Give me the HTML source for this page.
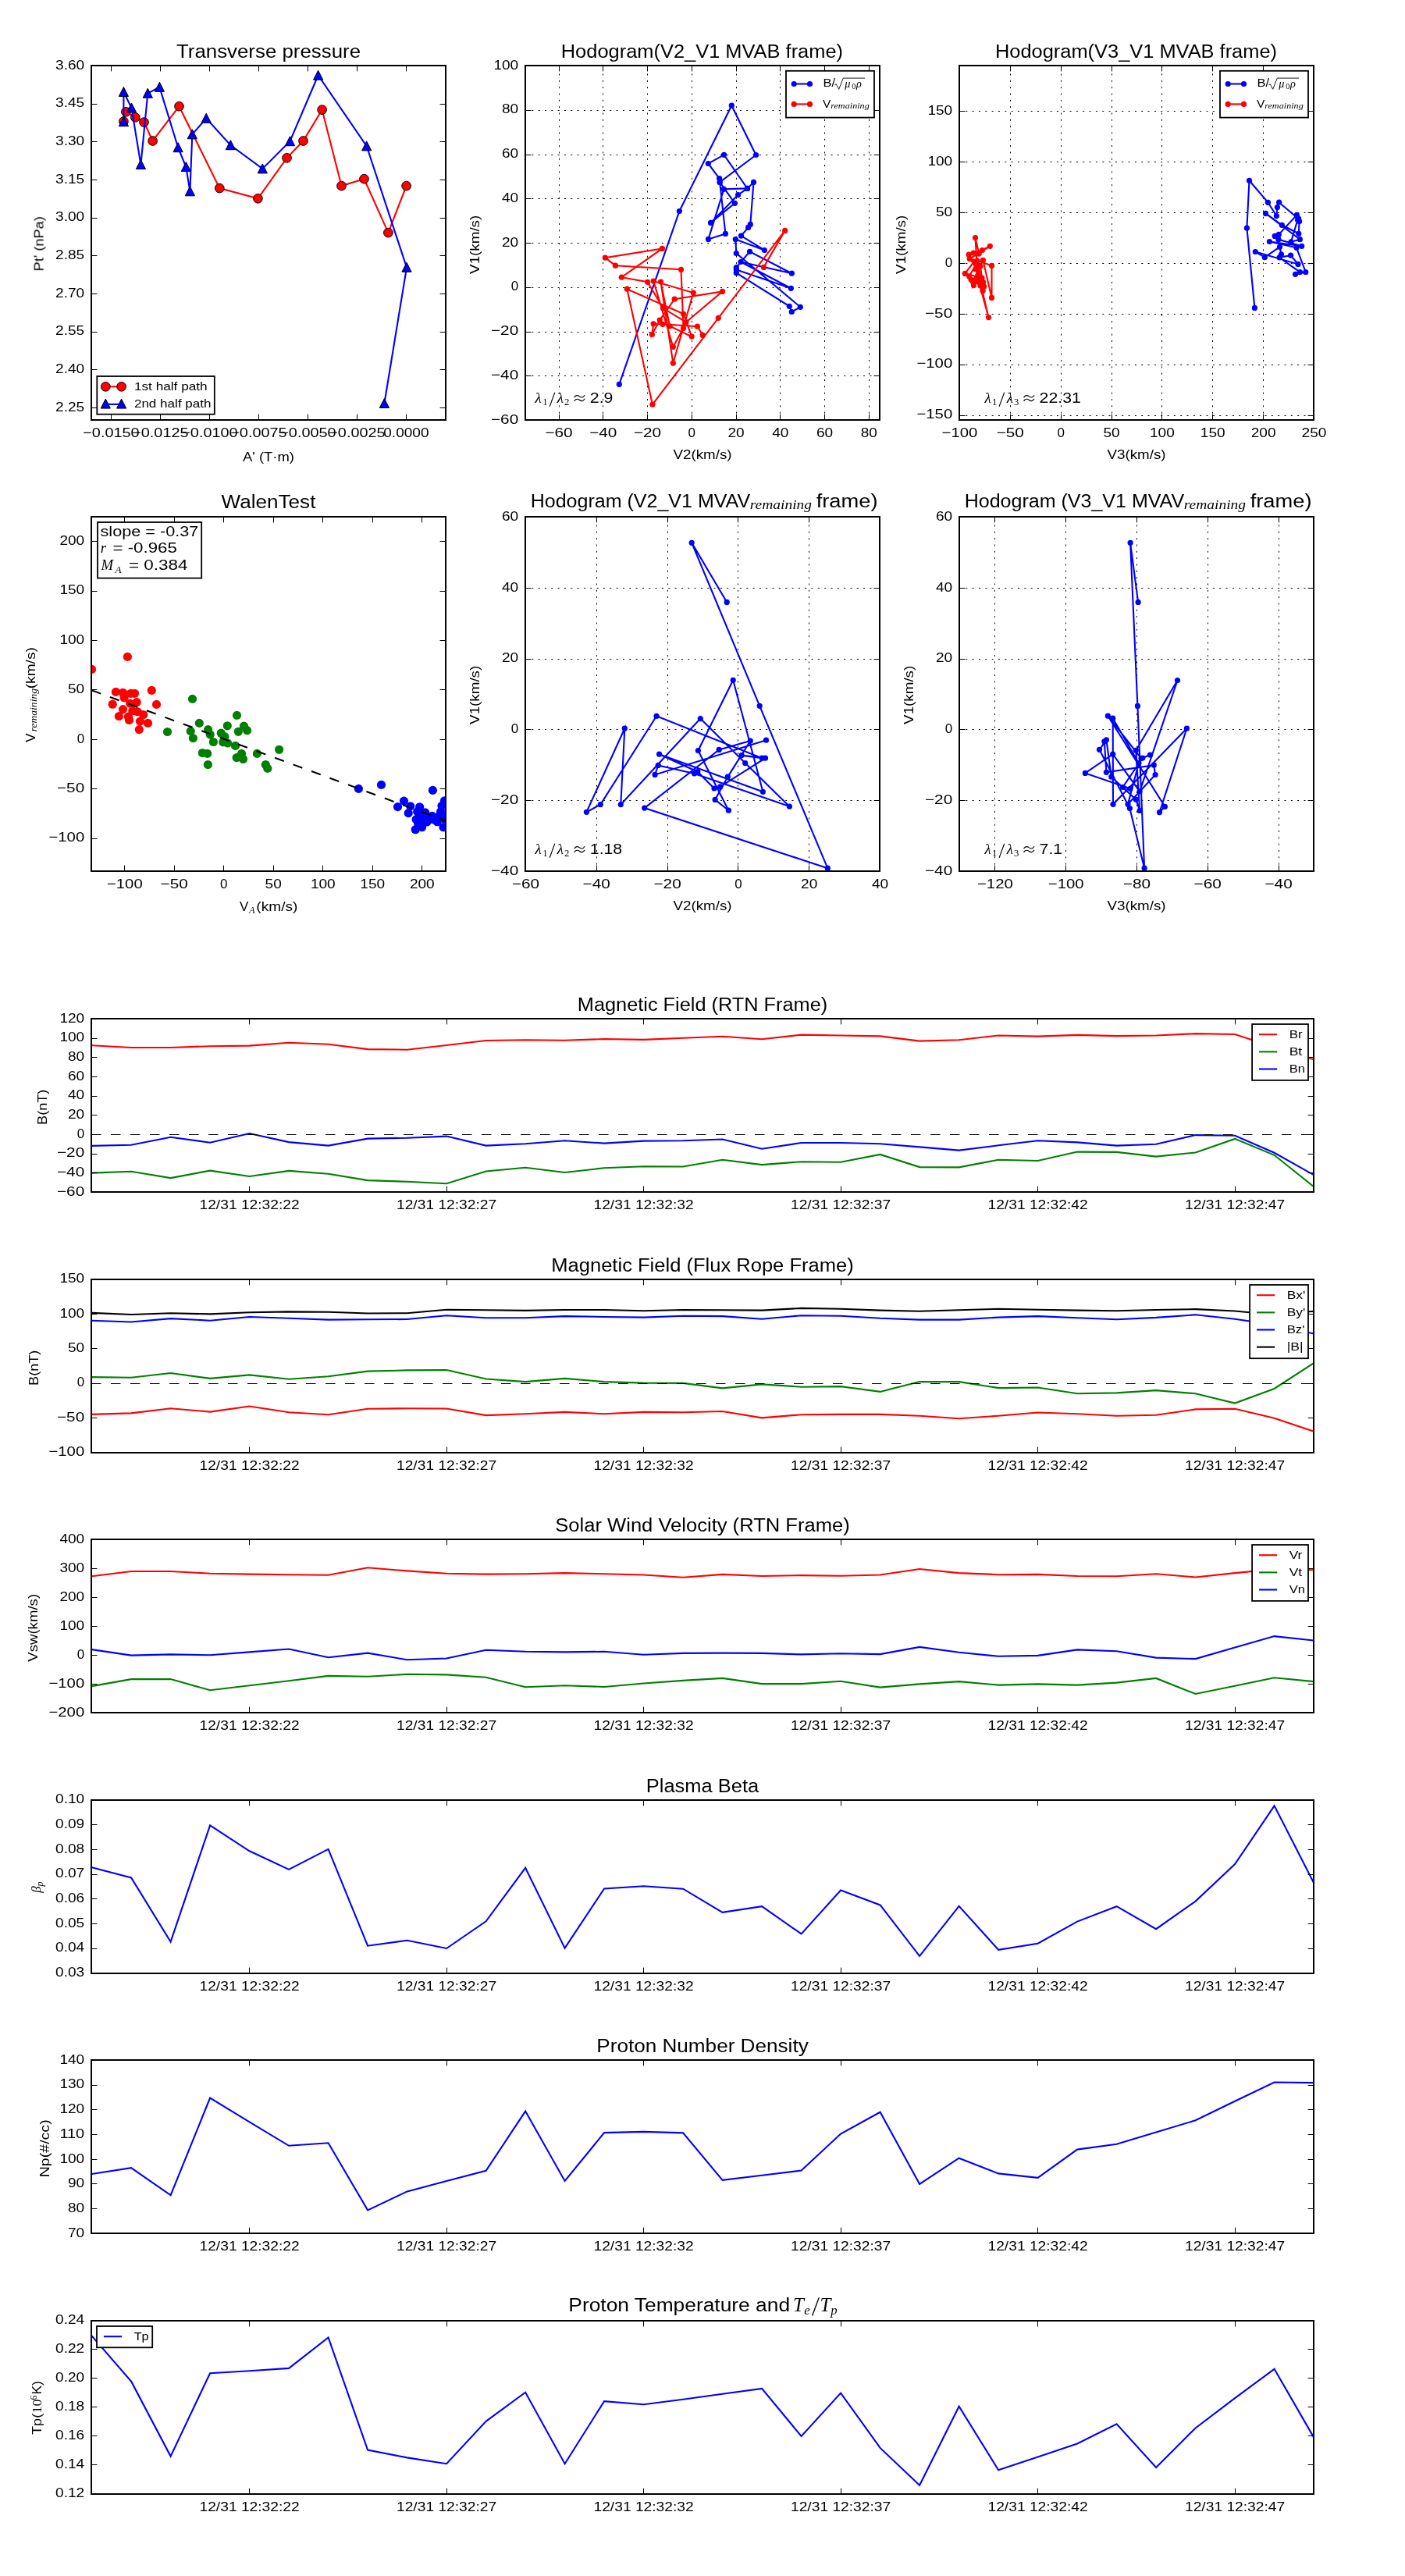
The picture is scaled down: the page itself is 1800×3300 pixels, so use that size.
<!DOCTYPE html>
<html><head><meta charset="utf-8"><title>figure</title>
<style>html,body{margin:0;padding:0;background:#fff}svg{display:block}</style></head>
<body><svg width="1800" height="3300" viewBox="0 0 1800 3300">
<rect width="1800" height="3300" fill="#fff"/>
<clipPath id="c1"><rect x="117" y="84" width="454" height="454"/></clipPath><g clip-path="url(#c1)">
<polyline fill="none" stroke="#ff0000" stroke-width="2.1" stroke-linejoin="miter" stroke-miterlimit="6" points="158.4,155.6 161.4,143.3 173.3,150.4 184.5,156.6 195.6,180.5 229.5,136.2 281.3,241.1 330.4,254.3 367.5,202.3 388.5,180.5 412.6,140.6 437.5,238.1 466.5,229.2 497.4,298.1 520.6,238.1"/>
<circle cx="158.4" cy="155.6" r="5.85" fill="#ff0000" stroke="#000" stroke-width="1"/>
<circle cx="161.4" cy="143.3" r="5.85" fill="#ff0000" stroke="#000" stroke-width="1"/>
<circle cx="173.3" cy="150.4" r="5.85" fill="#ff0000" stroke="#000" stroke-width="1"/>
<circle cx="184.5" cy="156.6" r="5.85" fill="#ff0000" stroke="#000" stroke-width="1"/>
<circle cx="195.6" cy="180.5" r="5.85" fill="#ff0000" stroke="#000" stroke-width="1"/>
<circle cx="229.5" cy="136.2" r="5.85" fill="#ff0000" stroke="#000" stroke-width="1"/>
<circle cx="281.3" cy="241.1" r="5.85" fill="#ff0000" stroke="#000" stroke-width="1"/>
<circle cx="330.4" cy="254.3" r="5.85" fill="#ff0000" stroke="#000" stroke-width="1"/>
<circle cx="367.5" cy="202.3" r="5.85" fill="#ff0000" stroke="#000" stroke-width="1"/>
<circle cx="388.5" cy="180.5" r="5.85" fill="#ff0000" stroke="#000" stroke-width="1"/>
<circle cx="412.6" cy="140.6" r="5.85" fill="#ff0000" stroke="#000" stroke-width="1"/>
<circle cx="437.5" cy="238.1" r="5.85" fill="#ff0000" stroke="#000" stroke-width="1"/>
<circle cx="466.5" cy="229.2" r="5.85" fill="#ff0000" stroke="#000" stroke-width="1"/>
<circle cx="497.4" cy="298.1" r="5.85" fill="#ff0000" stroke="#000" stroke-width="1"/>
<circle cx="520.6" cy="238.1" r="5.85" fill="#ff0000" stroke="#000" stroke-width="1"/>
<polyline fill="none" stroke="#0000ff" stroke-width="2.1" stroke-linejoin="miter" stroke-miterlimit="6" points="158.4,156.0 158.4,117.8 168.5,138.3 180.4,210.9 189.3,119.6 204.4,111.6 228.1,189.0 238.3,213.9 243.4,245.1 246.3,172.1 264.2,151.6 295.4,186.0 336.3,216.2 371.5,181.0 407.6,96.5 469.7,187.2 521.0,342.6 492.4,516.8"/>
<path d="M158.4 149.7 L164.5 161.7 L152.3 161.7 Z" fill="#0000ff" stroke="#000" stroke-width="1"/>
<path d="M158.4 111.5 L164.5 123.5 L152.3 123.5 Z" fill="#0000ff" stroke="#000" stroke-width="1"/>
<path d="M168.5 132.0 L174.6 144.0 L162.4 144.0 Z" fill="#0000ff" stroke="#000" stroke-width="1"/>
<path d="M180.4 204.6 L186.5 216.6 L174.3 216.6 Z" fill="#0000ff" stroke="#000" stroke-width="1"/>
<path d="M189.3 113.3 L195.4 125.3 L183.2 125.3 Z" fill="#0000ff" stroke="#000" stroke-width="1"/>
<path d="M204.4 105.3 L210.5 117.3 L198.3 117.3 Z" fill="#0000ff" stroke="#000" stroke-width="1"/>
<path d="M228.1 182.7 L234.2 194.7 L222.0 194.7 Z" fill="#0000ff" stroke="#000" stroke-width="1"/>
<path d="M238.3 207.6 L244.4 219.6 L232.2 219.6 Z" fill="#0000ff" stroke="#000" stroke-width="1"/>
<path d="M243.4 238.8 L249.5 250.8 L237.3 250.8 Z" fill="#0000ff" stroke="#000" stroke-width="1"/>
<path d="M246.3 165.8 L252.4 177.8 L240.2 177.8 Z" fill="#0000ff" stroke="#000" stroke-width="1"/>
<path d="M264.2 145.3 L270.3 157.3 L258.1 157.3 Z" fill="#0000ff" stroke="#000" stroke-width="1"/>
<path d="M295.4 179.7 L301.5 191.7 L289.3 191.7 Z" fill="#0000ff" stroke="#000" stroke-width="1"/>
<path d="M336.3 209.9 L342.4 221.9 L330.2 221.9 Z" fill="#0000ff" stroke="#000" stroke-width="1"/>
<path d="M371.5 174.7 L377.6 186.7 L365.4 186.7 Z" fill="#0000ff" stroke="#000" stroke-width="1"/>
<path d="M407.6 90.2 L413.7 102.2 L401.5 102.2 Z" fill="#0000ff" stroke="#000" stroke-width="1"/>
<path d="M469.7 180.9 L475.8 192.9 L463.6 192.9 Z" fill="#0000ff" stroke="#000" stroke-width="1"/>
<path d="M521.0 336.3 L527.1 348.3 L514.9 348.3 Z" fill="#0000ff" stroke="#000" stroke-width="1"/>
<path d="M492.4 510.5 L498.5 522.5 L486.3 522.5 Z" fill="#0000ff" stroke="#000" stroke-width="1"/>
</g>
<rect x="117" y="84" width="454" height="454" fill="none" stroke="#000" stroke-width="2"/>
<line x1="142.50" y1="538.00" x2="142.50" y2="530.60" stroke="#000" stroke-width="1"/>
<line x1="142.50" y1="84.00" x2="142.50" y2="91.40" stroke="#000" stroke-width="1"/>
<line x1="205.50" y1="538.00" x2="205.50" y2="530.60" stroke="#000" stroke-width="1"/>
<line x1="205.50" y1="84.00" x2="205.50" y2="91.40" stroke="#000" stroke-width="1"/>
<line x1="268.50" y1="538.00" x2="268.50" y2="530.60" stroke="#000" stroke-width="1"/>
<line x1="268.50" y1="84.00" x2="268.50" y2="91.40" stroke="#000" stroke-width="1"/>
<line x1="331.50" y1="538.00" x2="331.50" y2="530.60" stroke="#000" stroke-width="1"/>
<line x1="331.50" y1="84.00" x2="331.50" y2="91.40" stroke="#000" stroke-width="1"/>
<line x1="394.50" y1="538.00" x2="394.50" y2="530.60" stroke="#000" stroke-width="1"/>
<line x1="394.50" y1="84.00" x2="394.50" y2="91.40" stroke="#000" stroke-width="1"/>
<line x1="457.50" y1="538.00" x2="457.50" y2="530.60" stroke="#000" stroke-width="1"/>
<line x1="457.50" y1="84.00" x2="457.50" y2="91.40" stroke="#000" stroke-width="1"/>
<line x1="520.50" y1="538.00" x2="520.50" y2="530.60" stroke="#000" stroke-width="1"/>
<line x1="520.50" y1="84.00" x2="520.50" y2="91.40" stroke="#000" stroke-width="1"/>
<line x1="117.00" y1="522.50" x2="124.40" y2="522.50" stroke="#000" stroke-width="1"/>
<line x1="571.00" y1="522.50" x2="563.60" y2="522.50" stroke="#000" stroke-width="1"/>
<line x1="117.00" y1="473.50" x2="124.40" y2="473.50" stroke="#000" stroke-width="1"/>
<line x1="571.00" y1="473.50" x2="563.60" y2="473.50" stroke="#000" stroke-width="1"/>
<line x1="117.00" y1="425.50" x2="124.40" y2="425.50" stroke="#000" stroke-width="1"/>
<line x1="571.00" y1="425.50" x2="563.60" y2="425.50" stroke="#000" stroke-width="1"/>
<line x1="117.00" y1="376.50" x2="124.40" y2="376.50" stroke="#000" stroke-width="1"/>
<line x1="571.00" y1="376.50" x2="563.60" y2="376.50" stroke="#000" stroke-width="1"/>
<line x1="117.00" y1="327.50" x2="124.40" y2="327.50" stroke="#000" stroke-width="1"/>
<line x1="571.00" y1="327.50" x2="563.60" y2="327.50" stroke="#000" stroke-width="1"/>
<line x1="117.00" y1="279.50" x2="124.40" y2="279.50" stroke="#000" stroke-width="1"/>
<line x1="571.00" y1="279.50" x2="563.60" y2="279.50" stroke="#000" stroke-width="1"/>
<line x1="117.00" y1="230.50" x2="124.40" y2="230.50" stroke="#000" stroke-width="1"/>
<line x1="571.00" y1="230.50" x2="563.60" y2="230.50" stroke="#000" stroke-width="1"/>
<line x1="117.00" y1="181.50" x2="124.40" y2="181.50" stroke="#000" stroke-width="1"/>
<line x1="571.00" y1="181.50" x2="563.60" y2="181.50" stroke="#000" stroke-width="1"/>
<line x1="117.00" y1="133.50" x2="124.40" y2="133.50" stroke="#000" stroke-width="1"/>
<line x1="571.00" y1="133.50" x2="563.60" y2="133.50" stroke="#000" stroke-width="1"/>
<line x1="117.00" y1="84.50" x2="124.40" y2="84.50" stroke="#000" stroke-width="1"/>
<line x1="571.00" y1="84.50" x2="563.60" y2="84.50" stroke="#000" stroke-width="1"/>
<rect x="124.3" y="482" width="150.5" height="48.7" fill="#fff" stroke="#000" stroke-width="1.8"/>
<line x1="135.30" y1="495.30" x2="155.60" y2="495.30" stroke="#ff0000" stroke-width="2.1"/>
<circle cx="135.3" cy="495.3" r="5.85" fill="#ff0000" stroke="#000" stroke-width="1"/>
<circle cx="155.6" cy="495.3" r="5.85" fill="#ff0000" stroke="#000" stroke-width="1"/>
<line x1="135.30" y1="517.90" x2="155.60" y2="517.90" stroke="#0000ff" stroke-width="2.1"/>
<path d="M135.3 511.1 L141.4 523.1 L129.2 523.1 Z" fill="#0000ff" stroke="#000" stroke-width="1"/>
<path d="M155.6 511.1 L161.7 523.1 L149.5 523.1 Z" fill="#0000ff" stroke="#000" stroke-width="1"/>
<line x1="716.5" y1="538" x2="716.5" y2="84" stroke="#000" stroke-width="1" stroke-dasharray="2 6.33"/>
<line x1="716.50" y1="538.00" x2="716.50" y2="530.60" stroke="#000" stroke-width="1"/>
<line x1="716.50" y1="84.00" x2="716.50" y2="91.40" stroke="#000" stroke-width="1"/>
<line x1="772.5" y1="538" x2="772.5" y2="84" stroke="#000" stroke-width="1" stroke-dasharray="2 6.33"/>
<line x1="772.50" y1="538.00" x2="772.50" y2="530.60" stroke="#000" stroke-width="1"/>
<line x1="772.50" y1="84.00" x2="772.50" y2="91.40" stroke="#000" stroke-width="1"/>
<line x1="829.5" y1="538" x2="829.5" y2="84" stroke="#000" stroke-width="1" stroke-dasharray="2 6.33"/>
<line x1="829.50" y1="538.00" x2="829.50" y2="530.60" stroke="#000" stroke-width="1"/>
<line x1="829.50" y1="84.00" x2="829.50" y2="91.40" stroke="#000" stroke-width="1"/>
<line x1="886.5" y1="538" x2="886.5" y2="84" stroke="#000" stroke-width="1" stroke-dasharray="2 6.33"/>
<line x1="886.50" y1="538.00" x2="886.50" y2="530.60" stroke="#000" stroke-width="1"/>
<line x1="886.50" y1="84.00" x2="886.50" y2="91.40" stroke="#000" stroke-width="1"/>
<line x1="943.5" y1="538" x2="943.5" y2="84" stroke="#000" stroke-width="1" stroke-dasharray="2 6.33"/>
<line x1="943.50" y1="538.00" x2="943.50" y2="530.60" stroke="#000" stroke-width="1"/>
<line x1="943.50" y1="84.00" x2="943.50" y2="91.40" stroke="#000" stroke-width="1"/>
<line x1="999.5" y1="538" x2="999.5" y2="84" stroke="#000" stroke-width="1" stroke-dasharray="2 6.33"/>
<line x1="999.50" y1="538.00" x2="999.50" y2="530.60" stroke="#000" stroke-width="1"/>
<line x1="999.50" y1="84.00" x2="999.50" y2="91.40" stroke="#000" stroke-width="1"/>
<line x1="1056.5" y1="538" x2="1056.5" y2="84" stroke="#000" stroke-width="1" stroke-dasharray="2 6.33"/>
<line x1="1056.50" y1="538.00" x2="1056.50" y2="530.60" stroke="#000" stroke-width="1"/>
<line x1="1056.50" y1="84.00" x2="1056.50" y2="91.40" stroke="#000" stroke-width="1"/>
<line x1="1113.5" y1="538" x2="1113.5" y2="84" stroke="#000" stroke-width="1" stroke-dasharray="2 6.33"/>
<line x1="1113.50" y1="538.00" x2="1113.50" y2="530.60" stroke="#000" stroke-width="1"/>
<line x1="1113.50" y1="84.00" x2="1113.50" y2="91.40" stroke="#000" stroke-width="1"/>
<line x1="673" y1="538.5" x2="1127" y2="538.5" stroke="#000" stroke-width="1" stroke-dasharray="2 6.33"/>
<line x1="673.00" y1="538.50" x2="680.40" y2="538.50" stroke="#000" stroke-width="1"/>
<line x1="1127.00" y1="538.50" x2="1119.60" y2="538.50" stroke="#000" stroke-width="1"/>
<line x1="673" y1="481.5" x2="1127" y2="481.5" stroke="#000" stroke-width="1" stroke-dasharray="2 6.33"/>
<line x1="673.00" y1="481.50" x2="680.40" y2="481.50" stroke="#000" stroke-width="1"/>
<line x1="1127.00" y1="481.50" x2="1119.60" y2="481.50" stroke="#000" stroke-width="1"/>
<line x1="673" y1="425.5" x2="1127" y2="425.5" stroke="#000" stroke-width="1" stroke-dasharray="2 6.33"/>
<line x1="673.00" y1="425.50" x2="680.40" y2="425.50" stroke="#000" stroke-width="1"/>
<line x1="1127.00" y1="425.50" x2="1119.60" y2="425.50" stroke="#000" stroke-width="1"/>
<line x1="673" y1="368.5" x2="1127" y2="368.5" stroke="#000" stroke-width="1" stroke-dasharray="2 6.33"/>
<line x1="673.00" y1="368.50" x2="680.40" y2="368.50" stroke="#000" stroke-width="1"/>
<line x1="1127.00" y1="368.50" x2="1119.60" y2="368.50" stroke="#000" stroke-width="1"/>
<line x1="673" y1="311.5" x2="1127" y2="311.5" stroke="#000" stroke-width="1" stroke-dasharray="2 6.33"/>
<line x1="673.00" y1="311.50" x2="680.40" y2="311.50" stroke="#000" stroke-width="1"/>
<line x1="1127.00" y1="311.50" x2="1119.60" y2="311.50" stroke="#000" stroke-width="1"/>
<line x1="673" y1="254.5" x2="1127" y2="254.5" stroke="#000" stroke-width="1" stroke-dasharray="2 6.33"/>
<line x1="673.00" y1="254.50" x2="680.40" y2="254.50" stroke="#000" stroke-width="1"/>
<line x1="1127.00" y1="254.50" x2="1119.60" y2="254.50" stroke="#000" stroke-width="1"/>
<line x1="673" y1="198.5" x2="1127" y2="198.5" stroke="#000" stroke-width="1" stroke-dasharray="2 6.33"/>
<line x1="673.00" y1="198.50" x2="680.40" y2="198.50" stroke="#000" stroke-width="1"/>
<line x1="1127.00" y1="198.50" x2="1119.60" y2="198.50" stroke="#000" stroke-width="1"/>
<line x1="673" y1="141.5" x2="1127" y2="141.5" stroke="#000" stroke-width="1" stroke-dasharray="2 6.33"/>
<line x1="673.00" y1="141.50" x2="680.40" y2="141.50" stroke="#000" stroke-width="1"/>
<line x1="1127.00" y1="141.50" x2="1119.60" y2="141.50" stroke="#000" stroke-width="1"/>
<line x1="673" y1="84.5" x2="1127" y2="84.5" stroke="#000" stroke-width="1" stroke-dasharray="2 6.33"/>
<line x1="673.00" y1="84.50" x2="680.40" y2="84.50" stroke="#000" stroke-width="1"/>
<line x1="1127.00" y1="84.50" x2="1119.60" y2="84.50" stroke="#000" stroke-width="1"/>
<clipPath id="c2"><rect x="673" y="84" width="454" height="454"/></clipPath><g clip-path="url(#c2)">
<polyline fill="none" stroke="#0000ff" stroke-width="2.1" stroke-linejoin="miter" stroke-miterlimit="6" points="793.3,492.3 870.4,270.5 937.3,135.2 968.5,198.5 922.2,233.4 921.6,228.6 907.3,209.5 927.5,198.3 957.5,241.4 927.4,242.3 907.5,306.4 929.4,299.4 922.2,233.4 941.4,260.3 910.5,285.4 945.6,249.6 957.5,241.4 965.5,233.4 961.3,287.4 958.6,291.4 949.5,302.1 979.4,320.5 942.3,306.6 943.3,324.5 1025.3,393.3 1014.3,399.5 1011.3,392.3 943.3,349.7 943.3,345.5 1013.3,369.3 949.0,335.5 1014.4,350.2 960.5,322.3 943.3,342.5"/>
<circle cx="793.3" cy="492.3" r="3.6" fill="#0000ff"/>
<circle cx="870.4" cy="270.5" r="3.6" fill="#0000ff"/>
<circle cx="937.3" cy="135.2" r="3.6" fill="#0000ff"/>
<circle cx="968.5" cy="198.5" r="3.6" fill="#0000ff"/>
<circle cx="922.2" cy="233.4" r="3.6" fill="#0000ff"/>
<circle cx="921.6" cy="228.6" r="3.6" fill="#0000ff"/>
<circle cx="907.3" cy="209.5" r="3.6" fill="#0000ff"/>
<circle cx="927.5" cy="198.3" r="3.6" fill="#0000ff"/>
<circle cx="957.5" cy="241.4" r="3.6" fill="#0000ff"/>
<circle cx="927.4" cy="242.3" r="3.6" fill="#0000ff"/>
<circle cx="907.5" cy="306.4" r="3.6" fill="#0000ff"/>
<circle cx="929.4" cy="299.4" r="3.6" fill="#0000ff"/>
<circle cx="922.2" cy="233.4" r="3.6" fill="#0000ff"/>
<circle cx="941.4" cy="260.3" r="3.6" fill="#0000ff"/>
<circle cx="910.5" cy="285.4" r="3.6" fill="#0000ff"/>
<circle cx="945.6" cy="249.6" r="3.6" fill="#0000ff"/>
<circle cx="957.5" cy="241.4" r="3.6" fill="#0000ff"/>
<circle cx="965.5" cy="233.4" r="3.6" fill="#0000ff"/>
<circle cx="961.3" cy="287.4" r="3.6" fill="#0000ff"/>
<circle cx="958.6" cy="291.4" r="3.6" fill="#0000ff"/>
<circle cx="949.5" cy="302.1" r="3.6" fill="#0000ff"/>
<circle cx="979.4" cy="320.5" r="3.6" fill="#0000ff"/>
<circle cx="942.3" cy="306.6" r="3.6" fill="#0000ff"/>
<circle cx="943.3" cy="324.5" r="3.6" fill="#0000ff"/>
<circle cx="1025.3" cy="393.3" r="3.6" fill="#0000ff"/>
<circle cx="1014.3" cy="399.5" r="3.6" fill="#0000ff"/>
<circle cx="1011.3" cy="392.3" r="3.6" fill="#0000ff"/>
<circle cx="943.3" cy="349.7" r="3.6" fill="#0000ff"/>
<circle cx="943.3" cy="345.5" r="3.6" fill="#0000ff"/>
<circle cx="1013.3" cy="369.3" r="3.6" fill="#0000ff"/>
<circle cx="949.0" cy="335.5" r="3.6" fill="#0000ff"/>
<circle cx="1014.4" cy="350.2" r="3.6" fill="#0000ff"/>
<circle cx="960.5" cy="322.3" r="3.6" fill="#0000ff"/>
<circle cx="943.3" cy="342.5" r="3.6" fill="#0000ff"/>
<polyline fill="none" stroke="#ff0000" stroke-width="2.1" stroke-linejoin="miter" stroke-miterlimit="6" points="978.4,342.4 1005.6,295.4 920.3,407.3 835.9,518.2 803.3,370.2 875.5,402.0 886.2,431.1 858.0,417.8 846.5,361.0 862.3,465.2 888.3,375.1 837.2,360.1 862.3,444.3 875.5,420.4 872.5,345.3 788.4,340.2 775.4,330.2 848.4,318.4 796.3,355.2 829.6,361.3 849.5,394.8 878.9,412.7 925.5,373.4 864.2,383.2 845.2,410.1 835.4,428.5 837.1,414.8 849.0,415.3 893.4,418.2 900.3,429.4"/>
<circle cx="978.4" cy="342.4" r="3.6" fill="#ff0000"/>
<circle cx="1005.6" cy="295.4" r="3.6" fill="#ff0000"/>
<circle cx="920.3" cy="407.3" r="3.6" fill="#ff0000"/>
<circle cx="835.9" cy="518.2" r="3.6" fill="#ff0000"/>
<circle cx="803.3" cy="370.2" r="3.6" fill="#ff0000"/>
<circle cx="875.5" cy="402.0" r="3.6" fill="#ff0000"/>
<circle cx="886.2" cy="431.1" r="3.6" fill="#ff0000"/>
<circle cx="858.0" cy="417.8" r="3.6" fill="#ff0000"/>
<circle cx="846.5" cy="361.0" r="3.6" fill="#ff0000"/>
<circle cx="862.3" cy="465.2" r="3.6" fill="#ff0000"/>
<circle cx="888.3" cy="375.1" r="3.6" fill="#ff0000"/>
<circle cx="837.2" cy="360.1" r="3.6" fill="#ff0000"/>
<circle cx="862.3" cy="444.3" r="3.6" fill="#ff0000"/>
<circle cx="875.5" cy="420.4" r="3.6" fill="#ff0000"/>
<circle cx="872.5" cy="345.3" r="3.6" fill="#ff0000"/>
<circle cx="788.4" cy="340.2" r="3.6" fill="#ff0000"/>
<circle cx="775.4" cy="330.2" r="3.6" fill="#ff0000"/>
<circle cx="848.4" cy="318.4" r="3.6" fill="#ff0000"/>
<circle cx="796.3" cy="355.2" r="3.6" fill="#ff0000"/>
<circle cx="829.6" cy="361.3" r="3.6" fill="#ff0000"/>
<circle cx="849.5" cy="394.8" r="3.6" fill="#ff0000"/>
<circle cx="878.9" cy="412.7" r="3.6" fill="#ff0000"/>
<circle cx="925.5" cy="373.4" r="3.6" fill="#ff0000"/>
<circle cx="864.2" cy="383.2" r="3.6" fill="#ff0000"/>
<circle cx="845.2" cy="410.1" r="3.6" fill="#ff0000"/>
<circle cx="835.4" cy="428.5" r="3.6" fill="#ff0000"/>
<circle cx="837.1" cy="414.8" r="3.6" fill="#ff0000"/>
<circle cx="849.0" cy="415.3" r="3.6" fill="#ff0000"/>
<circle cx="893.4" cy="418.2" r="3.6" fill="#ff0000"/>
<circle cx="900.3" cy="429.4" r="3.6" fill="#ff0000"/>
</g>
<rect x="673" y="84" width="454" height="454" fill="none" stroke="#000" stroke-width="2"/>
<rect x="1007.0" y="90.8" width="113" height="59.8" fill="#fff" stroke="#000" stroke-width="1.8"/>
<line x1="1017.20" y1="107.50" x2="1037.50" y2="107.50" stroke="#0000ff" stroke-width="2.1"/>
<circle cx="1017.2" cy="107.5" r="3.6" fill="#0000ff"/>
<circle cx="1037.5" cy="107.5" r="3.6" fill="#0000ff"/>
<line x1="1017.20" y1="133.40" x2="1037.50" y2="133.40" stroke="#ff0000" stroke-width="2.1"/>
<circle cx="1017.2" cy="133.4" r="3.6" fill="#ff0000"/>
<circle cx="1037.5" cy="133.4" r="3.6" fill="#ff0000"/>
<path d="M1069.3 108.8 l1.9 -1.1 l3.5 6.6 l5.6 -14.2 l27.8 0" fill="none" stroke="#000" stroke-width="0.9"/>
<line x1="704.2" y1="520.8" x2="710.8" y2="502.8" stroke="#000" stroke-width="1.1"/>
<path d="M735.6 509.3 c2.2 -3.4 4.6 -3.2 6.9 -1.4 c2.3 1.8 4.6 1.6 6.6 -1.6" fill="none" stroke="#000" stroke-width="1.15"/>
<path d="M735.6 513.9 c2.2 -3.4 4.6 -3.2 6.9 -1.4 c2.3 1.8 4.6 1.6 6.6 -1.6" fill="none" stroke="#000" stroke-width="1.15"/>
<line x1="1229.5" y1="538" x2="1229.5" y2="84" stroke="#000" stroke-width="1" stroke-dasharray="2 6.33"/>
<line x1="1229.50" y1="538.00" x2="1229.50" y2="530.60" stroke="#000" stroke-width="1"/>
<line x1="1229.50" y1="84.00" x2="1229.50" y2="91.40" stroke="#000" stroke-width="1"/>
<line x1="1294.5" y1="538" x2="1294.5" y2="84" stroke="#000" stroke-width="1" stroke-dasharray="2 6.33"/>
<line x1="1294.50" y1="538.00" x2="1294.50" y2="530.60" stroke="#000" stroke-width="1"/>
<line x1="1294.50" y1="84.00" x2="1294.50" y2="91.40" stroke="#000" stroke-width="1"/>
<line x1="1359.5" y1="538" x2="1359.5" y2="84" stroke="#000" stroke-width="1" stroke-dasharray="2 6.33"/>
<line x1="1359.50" y1="538.00" x2="1359.50" y2="530.60" stroke="#000" stroke-width="1"/>
<line x1="1359.50" y1="84.00" x2="1359.50" y2="91.40" stroke="#000" stroke-width="1"/>
<line x1="1424.5" y1="538" x2="1424.5" y2="84" stroke="#000" stroke-width="1" stroke-dasharray="2 6.33"/>
<line x1="1424.50" y1="538.00" x2="1424.50" y2="530.60" stroke="#000" stroke-width="1"/>
<line x1="1424.50" y1="84.00" x2="1424.50" y2="91.40" stroke="#000" stroke-width="1"/>
<line x1="1488.5" y1="538" x2="1488.5" y2="84" stroke="#000" stroke-width="1" stroke-dasharray="2 6.33"/>
<line x1="1488.50" y1="538.00" x2="1488.50" y2="530.60" stroke="#000" stroke-width="1"/>
<line x1="1488.50" y1="84.00" x2="1488.50" y2="91.40" stroke="#000" stroke-width="1"/>
<line x1="1553.5" y1="538" x2="1553.5" y2="84" stroke="#000" stroke-width="1" stroke-dasharray="2 6.33"/>
<line x1="1553.50" y1="538.00" x2="1553.50" y2="530.60" stroke="#000" stroke-width="1"/>
<line x1="1553.50" y1="84.00" x2="1553.50" y2="91.40" stroke="#000" stroke-width="1"/>
<line x1="1618.5" y1="538" x2="1618.5" y2="84" stroke="#000" stroke-width="1" stroke-dasharray="2 6.33"/>
<line x1="1618.50" y1="538.00" x2="1618.50" y2="530.60" stroke="#000" stroke-width="1"/>
<line x1="1618.50" y1="84.00" x2="1618.50" y2="91.40" stroke="#000" stroke-width="1"/>
<line x1="1683.5" y1="538" x2="1683.5" y2="84" stroke="#000" stroke-width="1" stroke-dasharray="2 6.33"/>
<line x1="1683.50" y1="538.00" x2="1683.50" y2="530.60" stroke="#000" stroke-width="1"/>
<line x1="1683.50" y1="84.00" x2="1683.50" y2="91.40" stroke="#000" stroke-width="1"/>
<line x1="1229" y1="532.5" x2="1683" y2="532.5" stroke="#000" stroke-width="1" stroke-dasharray="2 6.33"/>
<line x1="1229.00" y1="532.50" x2="1236.40" y2="532.50" stroke="#000" stroke-width="1"/>
<line x1="1683.00" y1="532.50" x2="1675.60" y2="532.50" stroke="#000" stroke-width="1"/>
<line x1="1229" y1="467.5" x2="1683" y2="467.5" stroke="#000" stroke-width="1" stroke-dasharray="2 6.33"/>
<line x1="1229.00" y1="467.50" x2="1236.40" y2="467.50" stroke="#000" stroke-width="1"/>
<line x1="1683.00" y1="467.50" x2="1675.60" y2="467.50" stroke="#000" stroke-width="1"/>
<line x1="1229" y1="402.5" x2="1683" y2="402.5" stroke="#000" stroke-width="1" stroke-dasharray="2 6.33"/>
<line x1="1229.00" y1="402.50" x2="1236.40" y2="402.50" stroke="#000" stroke-width="1"/>
<line x1="1683.00" y1="402.50" x2="1675.60" y2="402.50" stroke="#000" stroke-width="1"/>
<line x1="1229" y1="337.5" x2="1683" y2="337.5" stroke="#000" stroke-width="1" stroke-dasharray="2 6.33"/>
<line x1="1229.00" y1="337.50" x2="1236.40" y2="337.50" stroke="#000" stroke-width="1"/>
<line x1="1683.00" y1="337.50" x2="1675.60" y2="337.50" stroke="#000" stroke-width="1"/>
<line x1="1229" y1="272.5" x2="1683" y2="272.5" stroke="#000" stroke-width="1" stroke-dasharray="2 6.33"/>
<line x1="1229.00" y1="272.50" x2="1236.40" y2="272.50" stroke="#000" stroke-width="1"/>
<line x1="1683.00" y1="272.50" x2="1675.60" y2="272.50" stroke="#000" stroke-width="1"/>
<line x1="1229" y1="207.5" x2="1683" y2="207.5" stroke="#000" stroke-width="1" stroke-dasharray="2 6.33"/>
<line x1="1229.00" y1="207.50" x2="1236.40" y2="207.50" stroke="#000" stroke-width="1"/>
<line x1="1683.00" y1="207.50" x2="1675.60" y2="207.50" stroke="#000" stroke-width="1"/>
<line x1="1229" y1="142.5" x2="1683" y2="142.5" stroke="#000" stroke-width="1" stroke-dasharray="2 6.33"/>
<line x1="1229.00" y1="142.50" x2="1236.40" y2="142.50" stroke="#000" stroke-width="1"/>
<line x1="1683.00" y1="142.50" x2="1675.60" y2="142.50" stroke="#000" stroke-width="1"/>
<clipPath id="c3"><rect x="1229" y="84" width="454" height="454"/></clipPath><g clip-path="url(#c3)">
<polyline fill="none" stroke="#0000ff" stroke-width="2.1" stroke-linejoin="miter" stroke-miterlimit="6" points="1607.4,394.4 1597.4,292.2 1600.5,231.3 1624.4,259.3 1635.4,276.6 1636.4,265.6 1638.6,259.2 1663.4,280.1 1662.5,281.5 1654.0,309.8 1665.4,306.7 1621.5,273.4 1642.3,288.3 1663.8,299.3 1664.6,283.6 1663.4,280.1 1661.4,275.4 1638.3,300.4 1633.2,302.4 1637.9,306.7 1667.7,315.3 1626.4,309.5 1661.0,317.3 1672.8,348.6 1659.5,351.3 1665.4,348.6 1639.1,329.8 1653.6,327.2 1663.0,338.4 1608.3,322.5 1620.3,329.6 1639.5,316.3 1641.5,325.9"/>
<circle cx="1607.4" cy="394.4" r="3.6" fill="#0000ff"/>
<circle cx="1597.4" cy="292.2" r="3.6" fill="#0000ff"/>
<circle cx="1600.5" cy="231.3" r="3.6" fill="#0000ff"/>
<circle cx="1624.4" cy="259.3" r="3.6" fill="#0000ff"/>
<circle cx="1635.4" cy="276.6" r="3.6" fill="#0000ff"/>
<circle cx="1636.4" cy="265.6" r="3.6" fill="#0000ff"/>
<circle cx="1638.6" cy="259.2" r="3.6" fill="#0000ff"/>
<circle cx="1663.4" cy="280.1" r="3.6" fill="#0000ff"/>
<circle cx="1662.5" cy="281.5" r="3.6" fill="#0000ff"/>
<circle cx="1654.0" cy="309.8" r="3.6" fill="#0000ff"/>
<circle cx="1665.4" cy="306.7" r="3.6" fill="#0000ff"/>
<circle cx="1621.5" cy="273.4" r="3.6" fill="#0000ff"/>
<circle cx="1642.3" cy="288.3" r="3.6" fill="#0000ff"/>
<circle cx="1663.8" cy="299.3" r="3.6" fill="#0000ff"/>
<circle cx="1664.6" cy="283.6" r="3.6" fill="#0000ff"/>
<circle cx="1663.4" cy="280.1" r="3.6" fill="#0000ff"/>
<circle cx="1661.4" cy="275.4" r="3.6" fill="#0000ff"/>
<circle cx="1638.3" cy="300.4" r="3.6" fill="#0000ff"/>
<circle cx="1633.2" cy="302.4" r="3.6" fill="#0000ff"/>
<circle cx="1637.9" cy="306.7" r="3.6" fill="#0000ff"/>
<circle cx="1667.7" cy="315.3" r="3.6" fill="#0000ff"/>
<circle cx="1626.4" cy="309.5" r="3.6" fill="#0000ff"/>
<circle cx="1661.0" cy="317.3" r="3.6" fill="#0000ff"/>
<circle cx="1672.8" cy="348.6" r="3.6" fill="#0000ff"/>
<circle cx="1659.5" cy="351.3" r="3.6" fill="#0000ff"/>
<circle cx="1665.4" cy="348.6" r="3.6" fill="#0000ff"/>
<circle cx="1639.1" cy="329.8" r="3.6" fill="#0000ff"/>
<circle cx="1653.6" cy="327.2" r="3.6" fill="#0000ff"/>
<circle cx="1663.0" cy="338.4" r="3.6" fill="#0000ff"/>
<circle cx="1608.3" cy="322.5" r="3.6" fill="#0000ff"/>
<circle cx="1620.3" cy="329.6" r="3.6" fill="#0000ff"/>
<circle cx="1639.5" cy="316.3" r="3.6" fill="#0000ff"/>
<circle cx="1641.5" cy="325.9" r="3.6" fill="#0000ff"/>
<polyline fill="none" stroke="#ff0000" stroke-width="2.1" stroke-linejoin="miter" stroke-miterlimit="6" points="1254.2,325.1 1249.5,304.5 1252.6,356.1 1266.5,406.6 1250.4,338.7 1241.7,353.9 1260.8,367.0 1246.1,360.4 1259.4,333.3 1270.5,381.4 1270.5,340.3 1252.0,334.0 1259.1,372.4 1259.7,361.5 1241.2,326.2 1247.2,324.0 1258.3,320.5 1268.4,315.3 1242.3,331.6 1248.0,335.0 1236.3,350.4 1258.0,356.1 1256.0,341.0 1250.0,345.0 1255.0,357.0 1247.4,365.6 1250.0,359.0 1254.0,360.0 1244.0,358.0 1256.0,366.0"/>
<circle cx="1254.2" cy="325.1" r="3.6" fill="#ff0000"/>
<circle cx="1249.5" cy="304.5" r="3.6" fill="#ff0000"/>
<circle cx="1252.6" cy="356.1" r="3.6" fill="#ff0000"/>
<circle cx="1266.5" cy="406.6" r="3.6" fill="#ff0000"/>
<circle cx="1250.4" cy="338.7" r="3.6" fill="#ff0000"/>
<circle cx="1241.7" cy="353.9" r="3.6" fill="#ff0000"/>
<circle cx="1260.8" cy="367.0" r="3.6" fill="#ff0000"/>
<circle cx="1246.1" cy="360.4" r="3.6" fill="#ff0000"/>
<circle cx="1259.4" cy="333.3" r="3.6" fill="#ff0000"/>
<circle cx="1270.5" cy="381.4" r="3.6" fill="#ff0000"/>
<circle cx="1270.5" cy="340.3" r="3.6" fill="#ff0000"/>
<circle cx="1252.0" cy="334.0" r="3.6" fill="#ff0000"/>
<circle cx="1259.1" cy="372.4" r="3.6" fill="#ff0000"/>
<circle cx="1259.7" cy="361.5" r="3.6" fill="#ff0000"/>
<circle cx="1241.2" cy="326.2" r="3.6" fill="#ff0000"/>
<circle cx="1247.2" cy="324.0" r="3.6" fill="#ff0000"/>
<circle cx="1258.3" cy="320.5" r="3.6" fill="#ff0000"/>
<circle cx="1268.4" cy="315.3" r="3.6" fill="#ff0000"/>
<circle cx="1242.3" cy="331.6" r="3.6" fill="#ff0000"/>
<circle cx="1248.0" cy="335.0" r="3.6" fill="#ff0000"/>
<circle cx="1236.3" cy="350.4" r="3.6" fill="#ff0000"/>
<circle cx="1258.0" cy="356.1" r="3.6" fill="#ff0000"/>
<circle cx="1256.0" cy="341.0" r="3.6" fill="#ff0000"/>
<circle cx="1250.0" cy="345.0" r="3.6" fill="#ff0000"/>
<circle cx="1255.0" cy="357.0" r="3.6" fill="#ff0000"/>
<circle cx="1247.4" cy="365.6" r="3.6" fill="#ff0000"/>
<circle cx="1250.0" cy="359.0" r="3.6" fill="#ff0000"/>
<circle cx="1254.0" cy="360.0" r="3.6" fill="#ff0000"/>
<circle cx="1244.0" cy="358.0" r="3.6" fill="#ff0000"/>
<circle cx="1256.0" cy="366.0" r="3.6" fill="#ff0000"/>
</g>
<rect x="1229" y="84" width="454" height="454" fill="none" stroke="#000" stroke-width="2"/>
<rect x="1563.0" y="90.8" width="113" height="59.8" fill="#fff" stroke="#000" stroke-width="1.8"/>
<line x1="1573.20" y1="107.50" x2="1593.50" y2="107.50" stroke="#0000ff" stroke-width="2.1"/>
<circle cx="1573.2" cy="107.5" r="3.6" fill="#0000ff"/>
<circle cx="1593.5" cy="107.5" r="3.6" fill="#0000ff"/>
<line x1="1573.20" y1="133.40" x2="1593.50" y2="133.40" stroke="#ff0000" stroke-width="2.1"/>
<circle cx="1573.2" cy="133.4" r="3.6" fill="#ff0000"/>
<circle cx="1593.5" cy="133.4" r="3.6" fill="#ff0000"/>
<path d="M1625.3 108.8 l1.9 -1.1 l3.5 6.6 l5.6 -14.2 l27.8 0" fill="none" stroke="#000" stroke-width="0.9"/>
<line x1="1280.1" y1="520.8" x2="1286.7" y2="502.8" stroke="#000" stroke-width="1.1"/>
<path d="M1311.5 509.3 c2.2 -3.4 4.6 -3.2 6.9 -1.4 c2.3 1.8 4.6 1.6 6.6 -1.6" fill="none" stroke="#000" stroke-width="1.15"/>
<path d="M1311.5 513.9 c2.2 -3.4 4.6 -3.2 6.9 -1.4 c2.3 1.8 4.6 1.6 6.6 -1.6" fill="none" stroke="#000" stroke-width="1.15"/>
<clipPath id="c4"><rect x="117" y="662" width="454" height="454"/></clipPath><g clip-path="url(#c4)">
<circle cx="117.5" cy="857.4" r="5.6" fill="#ff0000"/>
<circle cx="163.4" cy="841.4" r="5.6" fill="#ff0000"/>
<circle cx="148.4" cy="886.4" r="5.6" fill="#ff0000"/>
<circle cx="157.5" cy="887.3" r="5.6" fill="#ff0000"/>
<circle cx="167.6" cy="888.3" r="5.6" fill="#ff0000"/>
<circle cx="172.5" cy="888.3" r="5.6" fill="#ff0000"/>
<circle cx="194.3" cy="884.4" r="5.6" fill="#ff0000"/>
<circle cx="144.2" cy="902.2" r="5.6" fill="#ff0000"/>
<circle cx="159.1" cy="893.7" r="5.6" fill="#ff0000"/>
<circle cx="175.1" cy="899.5" r="5.6" fill="#ff0000"/>
<circle cx="166.6" cy="901.1" r="5.6" fill="#ff0000"/>
<circle cx="200.5" cy="902.4" r="5.6" fill="#ff0000"/>
<circle cx="157.5" cy="908.6" r="5.6" fill="#ff0000"/>
<circle cx="169.8" cy="910.7" r="5.6" fill="#ff0000"/>
<circle cx="176.2" cy="911.8" r="5.6" fill="#ff0000"/>
<circle cx="183.7" cy="915.5" r="5.6" fill="#ff0000"/>
<circle cx="152.4" cy="917.5" r="5.6" fill="#ff0000"/>
<circle cx="164.4" cy="918.2" r="5.6" fill="#ff0000"/>
<circle cx="165.5" cy="922.5" r="5.6" fill="#ff0000"/>
<circle cx="179.4" cy="924.1" r="5.6" fill="#ff0000"/>
<circle cx="189.5" cy="926.4" r="5.6" fill="#ff0000"/>
<circle cx="178.3" cy="934.6" r="5.6" fill="#ff0000"/>
<circle cx="214.5" cy="937.5" r="5.6" fill="#008000"/>
<circle cx="246.5" cy="895.4" r="5.6" fill="#008000"/>
<circle cx="255.3" cy="926.4" r="5.6" fill="#008000"/>
<circle cx="244.2" cy="936.6" r="5.6" fill="#008000"/>
<circle cx="247.4" cy="945.6" r="5.6" fill="#008000"/>
<circle cx="266.6" cy="934.7" r="5.6" fill="#008000"/>
<circle cx="269.2" cy="941.1" r="5.6" fill="#008000"/>
<circle cx="273.4" cy="950.5" r="5.6" fill="#008000"/>
<circle cx="259.3" cy="964.5" r="5.6" fill="#008000"/>
<circle cx="265.7" cy="965.4" r="5.6" fill="#008000"/>
<circle cx="266.4" cy="979.5" r="5.6" fill="#008000"/>
<circle cx="283.3" cy="939.2" r="5.6" fill="#008000"/>
<circle cx="287.8" cy="943.7" r="5.6" fill="#008000"/>
<circle cx="285.8" cy="950.7" r="5.6" fill="#008000"/>
<circle cx="291.6" cy="952.0" r="5.6" fill="#008000"/>
<circle cx="291.3" cy="929.8" r="5.6" fill="#008000"/>
<circle cx="303.5" cy="916.4" r="5.6" fill="#008000"/>
<circle cx="312.5" cy="930.2" r="5.6" fill="#008000"/>
<circle cx="316.6" cy="935.7" r="5.6" fill="#008000"/>
<circle cx="305.3" cy="937.3" r="5.6" fill="#008000"/>
<circle cx="301.5" cy="955.4" r="5.6" fill="#008000"/>
<circle cx="309.5" cy="965.4" r="5.6" fill="#008000"/>
<circle cx="303.1" cy="970.6" r="5.6" fill="#008000"/>
<circle cx="311.5" cy="972.5" r="5.6" fill="#008000"/>
<circle cx="329.4" cy="965.4" r="5.6" fill="#008000"/>
<circle cx="357.6" cy="960.3" r="5.6" fill="#008000"/>
<circle cx="340.3" cy="979.5" r="5.6" fill="#008000"/>
<circle cx="342.8" cy="984.4" r="5.6" fill="#008000"/>
<circle cx="459.4" cy="1010.4" r="5.6" fill="#0000ff"/>
<circle cx="488.5" cy="1005.4" r="5.6" fill="#0000ff"/>
<circle cx="554.4" cy="1012.4" r="5.6" fill="#0000ff"/>
<circle cx="509.5" cy="1033.6" r="5.6" fill="#0000ff"/>
<circle cx="517.5" cy="1026.1" r="5.6" fill="#0000ff"/>
<circle cx="525.7" cy="1032.8" r="5.6" fill="#0000ff"/>
<circle cx="523.2" cy="1041.6" r="5.6" fill="#0000ff"/>
<circle cx="537.6" cy="1033.8" r="5.6" fill="#0000ff"/>
<circle cx="534.7" cy="1039.8" r="5.6" fill="#0000ff"/>
<circle cx="544.6" cy="1040.8" r="5.6" fill="#0000ff"/>
<circle cx="539.6" cy="1045.8" r="5.6" fill="#0000ff"/>
<circle cx="533.2" cy="1049.7" r="5.6" fill="#0000ff"/>
<circle cx="535.7" cy="1054.7" r="5.6" fill="#0000ff"/>
<circle cx="540.6" cy="1059.7" r="5.6" fill="#0000ff"/>
<circle cx="532.2" cy="1062.7" r="5.6" fill="#0000ff"/>
<circle cx="550.1" cy="1049.7" r="5.6" fill="#0000ff"/>
<circle cx="553.6" cy="1045.3" r="5.6" fill="#0000ff"/>
<circle cx="560.1" cy="1052.7" r="5.6" fill="#0000ff"/>
<circle cx="564.6" cy="1039.8" r="5.6" fill="#0000ff"/>
<circle cx="566.0" cy="1032.3" r="5.6" fill="#0000ff"/>
<circle cx="569.5" cy="1025.8" r="5.6" fill="#0000ff"/>
<circle cx="568.5" cy="1048.8" r="5.6" fill="#0000ff"/>
<circle cx="568.0" cy="1059.7" r="5.6" fill="#0000ff"/>
<circle cx="571.0" cy="1043.0" r="5.6" fill="#0000ff"/>
<circle cx="547.0" cy="1053.0" r="5.6" fill="#0000ff"/>
<circle cx="545.0" cy="1047.0" r="5.6" fill="#0000ff"/>
<circle cx="556.0" cy="1050.0" r="5.6" fill="#0000ff"/>
<circle cx="562.0" cy="1046.0" r="5.6" fill="#0000ff"/>
<circle cx="540.5" cy="1051.5" r="5.6" fill="#0000ff"/>
<line x1="117.5" y1="884.3" x2="571" y2="1051.4" stroke="#000" stroke-width="2.08" stroke-dasharray="12.5 12.5"/>
</g>
<rect x="117" y="662" width="454" height="454" fill="none" stroke="#000" stroke-width="2"/>
<line x1="159.50" y1="1116.00" x2="159.50" y2="1108.60" stroke="#000" stroke-width="1"/>
<line x1="159.50" y1="662.00" x2="159.50" y2="669.40" stroke="#000" stroke-width="1"/>
<line x1="223.50" y1="1116.00" x2="223.50" y2="1108.60" stroke="#000" stroke-width="1"/>
<line x1="223.50" y1="662.00" x2="223.50" y2="669.40" stroke="#000" stroke-width="1"/>
<line x1="286.50" y1="1116.00" x2="286.50" y2="1108.60" stroke="#000" stroke-width="1"/>
<line x1="286.50" y1="662.00" x2="286.50" y2="669.40" stroke="#000" stroke-width="1"/>
<line x1="350.50" y1="1116.00" x2="350.50" y2="1108.60" stroke="#000" stroke-width="1"/>
<line x1="350.50" y1="662.00" x2="350.50" y2="669.40" stroke="#000" stroke-width="1"/>
<line x1="413.50" y1="1116.00" x2="413.50" y2="1108.60" stroke="#000" stroke-width="1"/>
<line x1="413.50" y1="662.00" x2="413.50" y2="669.40" stroke="#000" stroke-width="1"/>
<line x1="477.50" y1="1116.00" x2="477.50" y2="1108.60" stroke="#000" stroke-width="1"/>
<line x1="477.50" y1="662.00" x2="477.50" y2="669.40" stroke="#000" stroke-width="1"/>
<line x1="540.50" y1="1116.00" x2="540.50" y2="1108.60" stroke="#000" stroke-width="1"/>
<line x1="540.50" y1="662.00" x2="540.50" y2="669.40" stroke="#000" stroke-width="1"/>
<line x1="117.00" y1="1074.50" x2="124.40" y2="1074.50" stroke="#000" stroke-width="1"/>
<line x1="571.00" y1="1074.50" x2="563.60" y2="1074.50" stroke="#000" stroke-width="1"/>
<line x1="117.00" y1="1010.50" x2="124.40" y2="1010.50" stroke="#000" stroke-width="1"/>
<line x1="571.00" y1="1010.50" x2="563.60" y2="1010.50" stroke="#000" stroke-width="1"/>
<line x1="117.00" y1="947.50" x2="124.40" y2="947.50" stroke="#000" stroke-width="1"/>
<line x1="571.00" y1="947.50" x2="563.60" y2="947.50" stroke="#000" stroke-width="1"/>
<line x1="117.00" y1="883.50" x2="124.40" y2="883.50" stroke="#000" stroke-width="1"/>
<line x1="571.00" y1="883.50" x2="563.60" y2="883.50" stroke="#000" stroke-width="1"/>
<line x1="117.00" y1="820.50" x2="124.40" y2="820.50" stroke="#000" stroke-width="1"/>
<line x1="571.00" y1="820.50" x2="563.60" y2="820.50" stroke="#000" stroke-width="1"/>
<line x1="117.00" y1="757.50" x2="124.40" y2="757.50" stroke="#000" stroke-width="1"/>
<line x1="571.00" y1="757.50" x2="563.60" y2="757.50" stroke="#000" stroke-width="1"/>
<line x1="117.00" y1="693.50" x2="124.40" y2="693.50" stroke="#000" stroke-width="1"/>
<line x1="571.00" y1="693.50" x2="563.60" y2="693.50" stroke="#000" stroke-width="1"/>
<rect x="125" y="669" width="133.2" height="71.6" fill="#fff" stroke="#000" stroke-width="1.8"/>
<line x1="673.5" y1="1116" x2="673.5" y2="662" stroke="#000" stroke-width="1" stroke-dasharray="2 6.33"/>
<line x1="673.50" y1="1116.00" x2="673.50" y2="1108.60" stroke="#000" stroke-width="1"/>
<line x1="673.50" y1="662.00" x2="673.50" y2="669.40" stroke="#000" stroke-width="1"/>
<line x1="764.5" y1="1116" x2="764.5" y2="662" stroke="#000" stroke-width="1" stroke-dasharray="2 6.33"/>
<line x1="764.50" y1="1116.00" x2="764.50" y2="1108.60" stroke="#000" stroke-width="1"/>
<line x1="764.50" y1="662.00" x2="764.50" y2="669.40" stroke="#000" stroke-width="1"/>
<line x1="855.5" y1="1116" x2="855.5" y2="662" stroke="#000" stroke-width="1" stroke-dasharray="2 6.33"/>
<line x1="855.50" y1="1116.00" x2="855.50" y2="1108.60" stroke="#000" stroke-width="1"/>
<line x1="855.50" y1="662.00" x2="855.50" y2="669.40" stroke="#000" stroke-width="1"/>
<line x1="945.5" y1="1116" x2="945.5" y2="662" stroke="#000" stroke-width="1" stroke-dasharray="2 6.33"/>
<line x1="945.50" y1="1116.00" x2="945.50" y2="1108.60" stroke="#000" stroke-width="1"/>
<line x1="945.50" y1="662.00" x2="945.50" y2="669.40" stroke="#000" stroke-width="1"/>
<line x1="1036.5" y1="1116" x2="1036.5" y2="662" stroke="#000" stroke-width="1" stroke-dasharray="2 6.33"/>
<line x1="1036.50" y1="1116.00" x2="1036.50" y2="1108.60" stroke="#000" stroke-width="1"/>
<line x1="1036.50" y1="662.00" x2="1036.50" y2="669.40" stroke="#000" stroke-width="1"/>
<line x1="1127.5" y1="1116" x2="1127.5" y2="662" stroke="#000" stroke-width="1" stroke-dasharray="2 6.33"/>
<line x1="1127.50" y1="1116.00" x2="1127.50" y2="1108.60" stroke="#000" stroke-width="1"/>
<line x1="1127.50" y1="662.00" x2="1127.50" y2="669.40" stroke="#000" stroke-width="1"/>
<line x1="673" y1="1116.5" x2="1127" y2="1116.5" stroke="#000" stroke-width="1" stroke-dasharray="2 6.33"/>
<line x1="673.00" y1="1116.50" x2="680.40" y2="1116.50" stroke="#000" stroke-width="1"/>
<line x1="1127.00" y1="1116.50" x2="1119.60" y2="1116.50" stroke="#000" stroke-width="1"/>
<line x1="673" y1="1025.5" x2="1127" y2="1025.5" stroke="#000" stroke-width="1" stroke-dasharray="2 6.33"/>
<line x1="673.00" y1="1025.50" x2="680.40" y2="1025.50" stroke="#000" stroke-width="1"/>
<line x1="1127.00" y1="1025.50" x2="1119.60" y2="1025.50" stroke="#000" stroke-width="1"/>
<line x1="673" y1="934.5" x2="1127" y2="934.5" stroke="#000" stroke-width="1" stroke-dasharray="2 6.33"/>
<line x1="673.00" y1="934.50" x2="680.40" y2="934.50" stroke="#000" stroke-width="1"/>
<line x1="1127.00" y1="934.50" x2="1119.60" y2="934.50" stroke="#000" stroke-width="1"/>
<line x1="673" y1="844.5" x2="1127" y2="844.5" stroke="#000" stroke-width="1" stroke-dasharray="2 6.33"/>
<line x1="673.00" y1="844.50" x2="680.40" y2="844.50" stroke="#000" stroke-width="1"/>
<line x1="1127.00" y1="844.50" x2="1119.60" y2="844.50" stroke="#000" stroke-width="1"/>
<line x1="673" y1="753.5" x2="1127" y2="753.5" stroke="#000" stroke-width="1" stroke-dasharray="2 6.33"/>
<line x1="673.00" y1="753.50" x2="680.40" y2="753.50" stroke="#000" stroke-width="1"/>
<line x1="1127.00" y1="753.50" x2="1119.60" y2="753.50" stroke="#000" stroke-width="1"/>
<line x1="673" y1="662.5" x2="1127" y2="662.5" stroke="#000" stroke-width="1" stroke-dasharray="2 6.33"/>
<line x1="673.00" y1="662.50" x2="680.40" y2="662.50" stroke="#000" stroke-width="1"/>
<line x1="1127.00" y1="662.50" x2="1119.60" y2="662.50" stroke="#000" stroke-width="1"/>
<clipPath id="c5"><rect x="669" y="658" width="462" height="462"/></clipPath><g clip-path="url(#c5)">
<polyline fill="none" stroke="#0000ff" stroke-width="2.1" stroke-linejoin="miter" stroke-miterlimit="6" points="931.2,771.4 886.2,695.3 973.2,904.3 1060.3,1112.2 825.7,1035.1 921.2,960.4 961.3,949.1 932.4,995.1 916.1,1024.4 933.4,1038.2 894.4,961.5 939.2,871.3 977.4,1014.3 844.6,966.2 893.8,988.7 915.0,1010.0 922.7,1007.9 980.5,971.2 950.1,967.6 976.3,971.2 841.1,917.3 769.3,1030.6 751.4,1040.3 800.3,933.2 795.3,1030.6 897.3,920.6 954.7,977.6 1011.4,1033.1 889.6,991.0 843.2,980.4 839.1,992.4 981.5,948.2"/>
<circle cx="931.2" cy="771.4" r="3.6" fill="#0000ff"/>
<circle cx="886.2" cy="695.3" r="3.6" fill="#0000ff"/>
<circle cx="973.2" cy="904.3" r="3.6" fill="#0000ff"/>
<circle cx="1060.3" cy="1112.2" r="3.6" fill="#0000ff"/>
<circle cx="825.7" cy="1035.1" r="3.6" fill="#0000ff"/>
<circle cx="921.2" cy="960.4" r="3.6" fill="#0000ff"/>
<circle cx="961.3" cy="949.1" r="3.6" fill="#0000ff"/>
<circle cx="932.4" cy="995.1" r="3.6" fill="#0000ff"/>
<circle cx="916.1" cy="1024.4" r="3.6" fill="#0000ff"/>
<circle cx="933.4" cy="1038.2" r="3.6" fill="#0000ff"/>
<circle cx="894.4" cy="961.5" r="3.6" fill="#0000ff"/>
<circle cx="939.2" cy="871.3" r="3.6" fill="#0000ff"/>
<circle cx="977.4" cy="1014.3" r="3.6" fill="#0000ff"/>
<circle cx="844.6" cy="966.2" r="3.6" fill="#0000ff"/>
<circle cx="893.8" cy="988.7" r="3.6" fill="#0000ff"/>
<circle cx="915.0" cy="1010.0" r="3.6" fill="#0000ff"/>
<circle cx="922.7" cy="1007.9" r="3.6" fill="#0000ff"/>
<circle cx="980.5" cy="971.2" r="3.6" fill="#0000ff"/>
<circle cx="950.1" cy="967.6" r="3.6" fill="#0000ff"/>
<circle cx="976.3" cy="971.2" r="3.6" fill="#0000ff"/>
<circle cx="841.1" cy="917.3" r="3.6" fill="#0000ff"/>
<circle cx="769.3" cy="1030.6" r="3.6" fill="#0000ff"/>
<circle cx="751.4" cy="1040.3" r="3.6" fill="#0000ff"/>
<circle cx="800.3" cy="933.2" r="3.6" fill="#0000ff"/>
<circle cx="795.3" cy="1030.6" r="3.6" fill="#0000ff"/>
<circle cx="897.3" cy="920.6" r="3.6" fill="#0000ff"/>
<circle cx="954.7" cy="977.6" r="3.6" fill="#0000ff"/>
<circle cx="1011.4" cy="1033.1" r="3.6" fill="#0000ff"/>
<circle cx="889.6" cy="991.0" r="3.6" fill="#0000ff"/>
<circle cx="843.2" cy="980.4" r="3.6" fill="#0000ff"/>
<circle cx="839.1" cy="992.4" r="3.6" fill="#0000ff"/>
<circle cx="981.5" cy="948.2" r="3.6" fill="#0000ff"/>
</g>
<rect x="673" y="662" width="454" height="454" fill="none" stroke="#000" stroke-width="2"/>
<line x1="704.2" y1="1098.8" x2="710.8" y2="1080.8" stroke="#000" stroke-width="1.1"/>
<path d="M735.6 1087.3 c2.2 -3.4 4.6 -3.2 6.9 -1.4 c2.3 1.8 4.6 1.6 6.6 -1.6" fill="none" stroke="#000" stroke-width="1.15"/>
<path d="M735.6 1091.9 c2.2 -3.4 4.6 -3.2 6.9 -1.4 c2.3 1.8 4.6 1.6 6.6 -1.6" fill="none" stroke="#000" stroke-width="1.15"/>
<line x1="1274.5" y1="1116" x2="1274.5" y2="662" stroke="#000" stroke-width="1" stroke-dasharray="2 6.33"/>
<line x1="1274.50" y1="1116.00" x2="1274.50" y2="1108.60" stroke="#000" stroke-width="1"/>
<line x1="1274.50" y1="662.00" x2="1274.50" y2="669.40" stroke="#000" stroke-width="1"/>
<line x1="1365.5" y1="1116" x2="1365.5" y2="662" stroke="#000" stroke-width="1" stroke-dasharray="2 6.33"/>
<line x1="1365.50" y1="1116.00" x2="1365.50" y2="1108.60" stroke="#000" stroke-width="1"/>
<line x1="1365.50" y1="662.00" x2="1365.50" y2="669.40" stroke="#000" stroke-width="1"/>
<line x1="1456.5" y1="1116" x2="1456.5" y2="662" stroke="#000" stroke-width="1" stroke-dasharray="2 6.33"/>
<line x1="1456.50" y1="1116.00" x2="1456.50" y2="1108.60" stroke="#000" stroke-width="1"/>
<line x1="1456.50" y1="662.00" x2="1456.50" y2="669.40" stroke="#000" stroke-width="1"/>
<line x1="1547.5" y1="1116" x2="1547.5" y2="662" stroke="#000" stroke-width="1" stroke-dasharray="2 6.33"/>
<line x1="1547.50" y1="1116.00" x2="1547.50" y2="1108.60" stroke="#000" stroke-width="1"/>
<line x1="1547.50" y1="662.00" x2="1547.50" y2="669.40" stroke="#000" stroke-width="1"/>
<line x1="1638.5" y1="1116" x2="1638.5" y2="662" stroke="#000" stroke-width="1" stroke-dasharray="2 6.33"/>
<line x1="1638.50" y1="1116.00" x2="1638.50" y2="1108.60" stroke="#000" stroke-width="1"/>
<line x1="1638.50" y1="662.00" x2="1638.50" y2="669.40" stroke="#000" stroke-width="1"/>
<line x1="1229" y1="1116.5" x2="1683" y2="1116.5" stroke="#000" stroke-width="1" stroke-dasharray="2 6.33"/>
<line x1="1229.00" y1="1116.50" x2="1236.40" y2="1116.50" stroke="#000" stroke-width="1"/>
<line x1="1683.00" y1="1116.50" x2="1675.60" y2="1116.50" stroke="#000" stroke-width="1"/>
<line x1="1229" y1="1025.5" x2="1683" y2="1025.5" stroke="#000" stroke-width="1" stroke-dasharray="2 6.33"/>
<line x1="1229.00" y1="1025.50" x2="1236.40" y2="1025.50" stroke="#000" stroke-width="1"/>
<line x1="1683.00" y1="1025.50" x2="1675.60" y2="1025.50" stroke="#000" stroke-width="1"/>
<line x1="1229" y1="934.5" x2="1683" y2="934.5" stroke="#000" stroke-width="1" stroke-dasharray="2 6.33"/>
<line x1="1229.00" y1="934.50" x2="1236.40" y2="934.50" stroke="#000" stroke-width="1"/>
<line x1="1683.00" y1="934.50" x2="1675.60" y2="934.50" stroke="#000" stroke-width="1"/>
<line x1="1229" y1="844.5" x2="1683" y2="844.5" stroke="#000" stroke-width="1" stroke-dasharray="2 6.33"/>
<line x1="1229.00" y1="844.50" x2="1236.40" y2="844.50" stroke="#000" stroke-width="1"/>
<line x1="1683.00" y1="844.50" x2="1675.60" y2="844.50" stroke="#000" stroke-width="1"/>
<line x1="1229" y1="753.5" x2="1683" y2="753.5" stroke="#000" stroke-width="1" stroke-dasharray="2 6.33"/>
<line x1="1229.00" y1="753.50" x2="1236.40" y2="753.50" stroke="#000" stroke-width="1"/>
<line x1="1683.00" y1="753.50" x2="1675.60" y2="753.50" stroke="#000" stroke-width="1"/>
<line x1="1229" y1="662.5" x2="1683" y2="662.5" stroke="#000" stroke-width="1" stroke-dasharray="2 6.33"/>
<line x1="1229.00" y1="662.50" x2="1236.40" y2="662.50" stroke="#000" stroke-width="1"/>
<line x1="1683.00" y1="662.50" x2="1675.60" y2="662.50" stroke="#000" stroke-width="1"/>
<clipPath id="c6"><rect x="1225" y="658" width="462" height="462"/></clipPath><g clip-path="url(#c6)">
<polyline fill="none" stroke="#0000ff" stroke-width="2.1" stroke-linejoin="miter" stroke-miterlimit="6" points="1458.1,771.4 1448.1,695.3 1457.4,904.4 1466.1,1112.2 1447.4,1035.5 1408.5,960.3 1417.4,947.8 1423.8,995.2 1455.3,1024.2 1460.1,1038.5 1455.3,961.3 1508.5,871.5 1460.1,1013.9 1425.7,966.2 1390.3,990.4 1448.0,1010.3 1438.4,1008.5 1463.8,971.0 1473.5,967.1 1462.0,971.5 1419.4,917.2 1492.4,1033.3 1485.5,1040.6 1520.4,933.2 1426.0,1030.3 1425.7,920.2 1458.9,977.6 1445.0,1030.3 1480.1,992.5 1478.3,980.1 1417.4,989.3 1414.8,949.8"/>
<circle cx="1458.1" cy="771.4" r="3.6" fill="#0000ff"/>
<circle cx="1448.1" cy="695.3" r="3.6" fill="#0000ff"/>
<circle cx="1457.4" cy="904.4" r="3.6" fill="#0000ff"/>
<circle cx="1466.1" cy="1112.2" r="3.6" fill="#0000ff"/>
<circle cx="1447.4" cy="1035.5" r="3.6" fill="#0000ff"/>
<circle cx="1408.5" cy="960.3" r="3.6" fill="#0000ff"/>
<circle cx="1417.4" cy="947.8" r="3.6" fill="#0000ff"/>
<circle cx="1423.8" cy="995.2" r="3.6" fill="#0000ff"/>
<circle cx="1455.3" cy="1024.2" r="3.6" fill="#0000ff"/>
<circle cx="1460.1" cy="1038.5" r="3.6" fill="#0000ff"/>
<circle cx="1455.3" cy="961.3" r="3.6" fill="#0000ff"/>
<circle cx="1508.5" cy="871.5" r="3.6" fill="#0000ff"/>
<circle cx="1460.1" cy="1013.9" r="3.6" fill="#0000ff"/>
<circle cx="1425.7" cy="966.2" r="3.6" fill="#0000ff"/>
<circle cx="1390.3" cy="990.4" r="3.6" fill="#0000ff"/>
<circle cx="1448.0" cy="1010.3" r="3.6" fill="#0000ff"/>
<circle cx="1438.4" cy="1008.5" r="3.6" fill="#0000ff"/>
<circle cx="1463.8" cy="971.0" r="3.6" fill="#0000ff"/>
<circle cx="1473.5" cy="967.1" r="3.6" fill="#0000ff"/>
<circle cx="1462.0" cy="971.5" r="3.6" fill="#0000ff"/>
<circle cx="1419.4" cy="917.2" r="3.6" fill="#0000ff"/>
<circle cx="1492.4" cy="1033.3" r="3.6" fill="#0000ff"/>
<circle cx="1485.5" cy="1040.6" r="3.6" fill="#0000ff"/>
<circle cx="1520.4" cy="933.2" r="3.6" fill="#0000ff"/>
<circle cx="1426.0" cy="1030.3" r="3.6" fill="#0000ff"/>
<circle cx="1425.7" cy="920.2" r="3.6" fill="#0000ff"/>
<circle cx="1458.9" cy="977.6" r="3.6" fill="#0000ff"/>
<circle cx="1445.0" cy="1030.3" r="3.6" fill="#0000ff"/>
<circle cx="1480.1" cy="992.5" r="3.6" fill="#0000ff"/>
<circle cx="1478.3" cy="980.1" r="3.6" fill="#0000ff"/>
<circle cx="1417.4" cy="989.3" r="3.6" fill="#0000ff"/>
<circle cx="1414.8" cy="949.8" r="3.6" fill="#0000ff"/>
</g>
<rect x="1229" y="662" width="454" height="454" fill="none" stroke="#000" stroke-width="2"/>
<line x1="1280.1" y1="1098.8" x2="1286.7" y2="1080.8" stroke="#000" stroke-width="1.1"/>
<path d="M1311.5 1087.3 c2.2 -3.4 4.6 -3.2 6.9 -1.4 c2.3 1.8 4.6 1.6 6.6 -1.6" fill="none" stroke="#000" stroke-width="1.15"/>
<path d="M1311.5 1091.9 c2.2 -3.4 4.6 -3.2 6.9 -1.4 c2.3 1.8 4.6 1.6 6.6 -1.6" fill="none" stroke="#000" stroke-width="1.15"/>
<clipPath id="c7"><rect x="117" y="1305" width="1566" height="222"/></clipPath><g clip-path="url(#c7)">
<polyline fill="none" stroke="#ff0000" stroke-width="2.1" stroke-linejoin="miter" stroke-miterlimit="6" points="117.6,1339.3 168.1,1342.0 218.6,1342.0 269.1,1340.2 319.6,1339.6 370.1,1335.7 420.6,1337.8 471.1,1344.1 521.6,1344.7 572.1,1339.0 622.6,1333.0 673.1,1332.2 723.6,1332.8 774.1,1331.0 824.6,1331.9 875.1,1329.8 925.6,1327.7 976.1,1331.3 1026.6,1325.6 1077.1,1326.5 1127.6,1327.4 1178.1,1333.6 1228.6,1332.2 1279.1,1326.5 1329.6,1327.6 1380.1,1325.9 1430.6,1327.1 1481.1,1326.5 1531.6,1324.1 1582.1,1325.0 1632.6,1341.4 1683.1,1357.3"/>
<polyline fill="none" stroke="#008000" stroke-width="2.1" stroke-linejoin="miter" stroke-miterlimit="6" points="117.6,1502.6 168.1,1500.8 218.6,1509.1 269.1,1499.6 319.6,1507.0 370.1,1499.9 420.6,1503.7 471.1,1512.1 521.6,1513.8 572.1,1516.3 622.6,1500.5 673.1,1495.7 723.6,1502.0 774.1,1496.3 824.6,1494.2 875.1,1494.5 925.6,1485.8 976.1,1492.1 1026.6,1488.2 1077.1,1488.8 1127.6,1478.9 1178.1,1495.1 1228.6,1495.4 1279.1,1485.8 1329.6,1487.0 1380.1,1475.6 1430.6,1475.9 1481.1,1481.6 1531.6,1476.5 1582.1,1458.9 1632.6,1479.8 1683.1,1520.2"/>
<polyline fill="none" stroke="#0000ff" stroke-width="2.1" stroke-linejoin="miter" stroke-miterlimit="6" points="117.6,1467.9 168.1,1466.7 218.6,1456.8 269.1,1463.7 319.6,1452.0 370.1,1463.1 420.6,1467.6 471.1,1458.6 521.6,1457.7 572.1,1455.6 622.6,1467.6 673.1,1465.2 723.6,1461.3 774.1,1464.6 824.6,1461.6 875.1,1461.3 925.6,1459.5 976.1,1471.8 1026.6,1464.0 1077.1,1464.0 1127.6,1465.2 1178.1,1469.4 1228.6,1473.6 1279.1,1467.3 1329.6,1461.3 1380.1,1463.4 1430.6,1467.6 1481.1,1465.8 1531.6,1454.1 1582.1,1454.7 1632.6,1476.8 1683.1,1505.2"/>
<line x1="117" y1="1453.5" x2="1683" y2="1453.5" stroke="#000" stroke-width="1" stroke-dasharray="12.5 12.5"/>
</g>
<rect x="117" y="1305" width="1566" height="222" fill="none" stroke="#000" stroke-width="2"/>
<line x1="319.50" y1="1527.00" x2="319.50" y2="1519.60" stroke="#000" stroke-width="1"/>
<line x1="319.50" y1="1305.00" x2="319.50" y2="1312.40" stroke="#000" stroke-width="1"/>
<line x1="572.50" y1="1527.00" x2="572.50" y2="1519.60" stroke="#000" stroke-width="1"/>
<line x1="572.50" y1="1305.00" x2="572.50" y2="1312.40" stroke="#000" stroke-width="1"/>
<line x1="824.50" y1="1527.00" x2="824.50" y2="1519.60" stroke="#000" stroke-width="1"/>
<line x1="824.50" y1="1305.00" x2="824.50" y2="1312.40" stroke="#000" stroke-width="1"/>
<line x1="1077.50" y1="1527.00" x2="1077.50" y2="1519.60" stroke="#000" stroke-width="1"/>
<line x1="1077.50" y1="1305.00" x2="1077.50" y2="1312.40" stroke="#000" stroke-width="1"/>
<line x1="1329.50" y1="1527.00" x2="1329.50" y2="1519.60" stroke="#000" stroke-width="1"/>
<line x1="1329.50" y1="1305.00" x2="1329.50" y2="1312.40" stroke="#000" stroke-width="1"/>
<line x1="1582.50" y1="1527.00" x2="1582.50" y2="1519.60" stroke="#000" stroke-width="1"/>
<line x1="1582.50" y1="1305.00" x2="1582.50" y2="1312.40" stroke="#000" stroke-width="1"/>
<line x1="117.00" y1="1527.50" x2="124.40" y2="1527.50" stroke="#000" stroke-width="1"/>
<line x1="1683.00" y1="1527.50" x2="1675.60" y2="1527.50" stroke="#000" stroke-width="1"/>
<line x1="117.00" y1="1502.50" x2="124.40" y2="1502.50" stroke="#000" stroke-width="1"/>
<line x1="1683.00" y1="1502.50" x2="1675.60" y2="1502.50" stroke="#000" stroke-width="1"/>
<line x1="117.00" y1="1478.50" x2="124.40" y2="1478.50" stroke="#000" stroke-width="1"/>
<line x1="1683.00" y1="1478.50" x2="1675.60" y2="1478.50" stroke="#000" stroke-width="1"/>
<line x1="117.00" y1="1453.50" x2="124.40" y2="1453.50" stroke="#000" stroke-width="1"/>
<line x1="1683.00" y1="1453.50" x2="1675.60" y2="1453.50" stroke="#000" stroke-width="1"/>
<line x1="117.00" y1="1428.50" x2="124.40" y2="1428.50" stroke="#000" stroke-width="1"/>
<line x1="1683.00" y1="1428.50" x2="1675.60" y2="1428.50" stroke="#000" stroke-width="1"/>
<line x1="117.00" y1="1404.50" x2="124.40" y2="1404.50" stroke="#000" stroke-width="1"/>
<line x1="1683.00" y1="1404.50" x2="1675.60" y2="1404.50" stroke="#000" stroke-width="1"/>
<line x1="117.00" y1="1379.50" x2="124.40" y2="1379.50" stroke="#000" stroke-width="1"/>
<line x1="1683.00" y1="1379.50" x2="1675.60" y2="1379.50" stroke="#000" stroke-width="1"/>
<line x1="117.00" y1="1354.50" x2="124.40" y2="1354.50" stroke="#000" stroke-width="1"/>
<line x1="1683.00" y1="1354.50" x2="1675.60" y2="1354.50" stroke="#000" stroke-width="1"/>
<line x1="117.00" y1="1330.50" x2="124.40" y2="1330.50" stroke="#000" stroke-width="1"/>
<line x1="1683.00" y1="1330.50" x2="1675.60" y2="1330.50" stroke="#000" stroke-width="1"/>
<line x1="117.00" y1="1305.50" x2="124.40" y2="1305.50" stroke="#000" stroke-width="1"/>
<line x1="1683.00" y1="1305.50" x2="1675.60" y2="1305.50" stroke="#000" stroke-width="1"/>
<rect x="1604.1" y="1312.0" width="71.9" height="71.9" fill="#fff" stroke="#000" stroke-width="1.8"/>
<line x1="1613.00" y1="1325.20" x2="1636.20" y2="1325.20" stroke="#ff0000" stroke-width="2.1"/>
<line x1="1613.00" y1="1347.35" x2="1636.20" y2="1347.35" stroke="#008000" stroke-width="2.1"/>
<line x1="1613.00" y1="1369.50" x2="1636.20" y2="1369.50" stroke="#0000ff" stroke-width="2.1"/>
<clipPath id="c8"><rect x="117" y="1639" width="1566" height="222"/></clipPath><g clip-path="url(#c8)">
<polyline fill="none" stroke="#ff0000" stroke-width="2.1" stroke-linejoin="miter" stroke-miterlimit="6" points="117.6,1811.9 168.1,1810.4 218.6,1804.2 269.1,1808.6 319.6,1801.5 370.1,1809.2 420.6,1812.2 471.1,1804.8 521.6,1804.2 572.1,1804.5 622.6,1813.1 673.1,1811.3 723.6,1808.9 774.1,1811.3 824.6,1808.9 875.1,1809.2 925.6,1808.0 976.1,1816.4 1026.6,1812.2 1077.1,1811.9 1127.6,1811.9 1178.1,1813.7 1228.6,1817.3 1279.1,1813.7 1329.6,1809.5 1380.1,1811.3 1430.6,1813.7 1481.1,1812.8 1531.6,1805.4 1582.1,1804.8 1632.6,1816.7 1683.1,1833.7"/>
<polyline fill="none" stroke="#008000" stroke-width="2.1" stroke-linejoin="miter" stroke-miterlimit="6" points="117.6,1764.1 168.1,1764.7 218.6,1759.0 269.1,1765.9 319.6,1761.4 370.1,1766.8 420.6,1763.2 471.1,1756.6 521.6,1755.4 572.1,1755.1 622.6,1766.5 673.1,1770.1 723.6,1765.9 774.1,1770.1 824.6,1771.6 875.1,1771.9 925.6,1778.4 976.1,1773.4 1026.6,1776.7 1077.1,1776.1 1127.6,1782.9 1178.1,1770.1 1228.6,1770.1 1279.1,1778.1 1329.6,1777.5 1380.1,1785.3 1430.6,1784.4 1481.1,1781.1 1531.6,1785.3 1582.1,1797.6 1632.6,1779.0 1683.1,1746.2"/>
<polyline fill="none" stroke="#0000ff" stroke-width="2.1" stroke-linejoin="miter" stroke-miterlimit="6" points="117.6,1691.7 168.1,1693.5 218.6,1689.1 269.1,1691.7 319.6,1687.0 370.1,1688.8 420.6,1690.6 471.1,1690.3 521.6,1690.0 572.1,1685.2 622.6,1688.2 673.1,1688.2 723.6,1686.1 774.1,1687.0 824.6,1687.6 875.1,1685.8 925.6,1686.1 976.1,1689.7 1026.6,1685.2 1077.1,1685.8 1127.6,1688.8 1178.1,1690.6 1228.6,1690.6 1279.1,1687.6 1329.6,1686.1 1380.1,1688.2 1430.6,1690.3 1481.1,1687.9 1531.6,1684.3 1582.1,1689.7 1632.6,1697.1 1683.1,1708.5"/>
<polyline fill="none" stroke="#000" stroke-width="2.1" stroke-linejoin="miter" stroke-miterlimit="6" points="117.6,1681.9 168.1,1684.0 218.6,1682.2 269.1,1683.4 319.6,1681.3 370.1,1680.4 420.6,1680.7 471.1,1682.5 521.6,1682.2 572.1,1677.7 622.6,1678.3 673.1,1678.9 723.6,1678.0 774.1,1678.0 824.6,1679.2 875.1,1678.0 925.6,1678.3 976.1,1678.6 1026.6,1675.9 1077.1,1676.8 1127.6,1678.6 1178.1,1679.8 1228.6,1678.3 1279.1,1676.8 1329.6,1677.7 1380.1,1678.6 1430.6,1679.2 1481.1,1678.0 1531.6,1677.1 1582.1,1679.5 1632.6,1684.3 1683.1,1679.8"/>
<line x1="117" y1="1772.5" x2="1683" y2="1772.5" stroke="#000" stroke-width="1" stroke-dasharray="12.5 12.5"/>
</g>
<rect x="117" y="1639" width="1566" height="222" fill="none" stroke="#000" stroke-width="2"/>
<line x1="319.50" y1="1861.00" x2="319.50" y2="1853.60" stroke="#000" stroke-width="1"/>
<line x1="319.50" y1="1639.00" x2="319.50" y2="1646.40" stroke="#000" stroke-width="1"/>
<line x1="572.50" y1="1861.00" x2="572.50" y2="1853.60" stroke="#000" stroke-width="1"/>
<line x1="572.50" y1="1639.00" x2="572.50" y2="1646.40" stroke="#000" stroke-width="1"/>
<line x1="824.50" y1="1861.00" x2="824.50" y2="1853.60" stroke="#000" stroke-width="1"/>
<line x1="824.50" y1="1639.00" x2="824.50" y2="1646.40" stroke="#000" stroke-width="1"/>
<line x1="1077.50" y1="1861.00" x2="1077.50" y2="1853.60" stroke="#000" stroke-width="1"/>
<line x1="1077.50" y1="1639.00" x2="1077.50" y2="1646.40" stroke="#000" stroke-width="1"/>
<line x1="1329.50" y1="1861.00" x2="1329.50" y2="1853.60" stroke="#000" stroke-width="1"/>
<line x1="1329.50" y1="1639.00" x2="1329.50" y2="1646.40" stroke="#000" stroke-width="1"/>
<line x1="1582.50" y1="1861.00" x2="1582.50" y2="1853.60" stroke="#000" stroke-width="1"/>
<line x1="1582.50" y1="1639.00" x2="1582.50" y2="1646.40" stroke="#000" stroke-width="1"/>
<line x1="117.00" y1="1860.50" x2="124.40" y2="1860.50" stroke="#000" stroke-width="1"/>
<line x1="1683.00" y1="1860.50" x2="1675.60" y2="1860.50" stroke="#000" stroke-width="1"/>
<line x1="117.00" y1="1816.50" x2="124.40" y2="1816.50" stroke="#000" stroke-width="1"/>
<line x1="1683.00" y1="1816.50" x2="1675.60" y2="1816.50" stroke="#000" stroke-width="1"/>
<line x1="117.00" y1="1772.50" x2="124.40" y2="1772.50" stroke="#000" stroke-width="1"/>
<line x1="1683.00" y1="1772.50" x2="1675.60" y2="1772.50" stroke="#000" stroke-width="1"/>
<line x1="117.00" y1="1727.50" x2="124.40" y2="1727.50" stroke="#000" stroke-width="1"/>
<line x1="1683.00" y1="1727.50" x2="1675.60" y2="1727.50" stroke="#000" stroke-width="1"/>
<line x1="117.00" y1="1683.50" x2="124.40" y2="1683.50" stroke="#000" stroke-width="1"/>
<line x1="1683.00" y1="1683.50" x2="1675.60" y2="1683.50" stroke="#000" stroke-width="1"/>
<line x1="117.00" y1="1638.50" x2="124.40" y2="1638.50" stroke="#000" stroke-width="1"/>
<line x1="1683.00" y1="1638.50" x2="1675.60" y2="1638.50" stroke="#000" stroke-width="1"/>
<rect x="1601.1" y="1646.0" width="74.9" height="94.2" fill="#fff" stroke="#000" stroke-width="1.8"/>
<line x1="1610.00" y1="1659.20" x2="1633.20" y2="1659.20" stroke="#ff0000" stroke-width="2.1"/>
<line x1="1610.00" y1="1681.35" x2="1633.20" y2="1681.35" stroke="#008000" stroke-width="2.1"/>
<line x1="1610.00" y1="1703.50" x2="1633.20" y2="1703.50" stroke="#0000ff" stroke-width="2.1"/>
<line x1="1610.00" y1="1725.65" x2="1633.20" y2="1725.65" stroke="#000" stroke-width="2.1"/>
<clipPath id="c9"><rect x="117" y="1972" width="1566" height="222"/></clipPath><g clip-path="url(#c9)">
<polyline fill="none" stroke="#ff0000" stroke-width="2.1" stroke-linejoin="miter" stroke-miterlimit="6" points="117.6,2019.3 168.1,2013.0 218.6,2013.0 269.1,2015.7 319.6,2016.6 370.1,2017.2 420.6,2017.8 471.1,2008.2 521.6,2012.4 572.1,2015.7 622.6,2016.6 673.1,2016.3 723.6,2015.1 774.1,2016.3 824.6,2017.5 875.1,2020.8 925.6,2016.9 976.1,2019.0 1026.6,2018.1 1077.1,2018.7 1127.6,2017.5 1178.1,2010.0 1228.6,2015.1 1279.1,2017.2 1329.6,2016.9 1380.1,2019.0 1430.6,2019.3 1481.1,2016.3 1531.6,2020.5 1582.1,2015.1 1632.6,2010.3 1683.1,2011.2"/>
<polyline fill="none" stroke="#008000" stroke-width="2.1" stroke-linejoin="miter" stroke-miterlimit="6" points="117.6,2160.1 168.1,2151.1 218.6,2151.1 269.1,2165.2 319.6,2159.2 370.1,2153.2 420.6,2146.9 471.1,2147.8 521.6,2144.8 572.1,2145.4 622.6,2148.7 673.1,2161.3 723.6,2159.2 774.1,2161.0 824.6,2156.5 875.1,2152.9 925.6,2149.9 976.1,2157.1 1026.6,2157.1 1077.1,2153.8 1127.6,2161.6 1178.1,2157.4 1228.6,2154.1 1279.1,2158.6 1329.6,2157.4 1380.1,2158.6 1430.6,2155.6 1481.1,2149.9 1531.6,2170.0 1582.1,2159.8 1632.6,2149.3 1683.1,2154.1"/>
<polyline fill="none" stroke="#0000ff" stroke-width="2.1" stroke-linejoin="miter" stroke-miterlimit="6" points="117.6,2113.1 168.1,2120.6 218.6,2119.4 269.1,2120.3 319.6,2116.4 370.1,2112.5 420.6,2123.3 471.1,2117.6 521.6,2126.3 572.1,2124.5 622.6,2113.7 673.1,2115.8 723.6,2116.4 774.1,2115.8 824.6,2119.7 875.1,2117.9 925.6,2117.6 976.1,2117.9 1026.6,2119.4 1077.1,2118.2 1127.6,2119.1 1178.1,2109.9 1228.6,2116.7 1279.1,2121.8 1329.6,2120.9 1380.1,2113.4 1430.6,2115.2 1481.1,2123.6 1531.6,2125.1 1582.1,2110.5 1632.6,2096.1 1683.1,2101.5"/>
</g>
<rect x="117" y="1972" width="1566" height="222" fill="none" stroke="#000" stroke-width="2"/>
<line x1="319.50" y1="2194.00" x2="319.50" y2="2186.60" stroke="#000" stroke-width="1"/>
<line x1="319.50" y1="1972.00" x2="319.50" y2="1979.40" stroke="#000" stroke-width="1"/>
<line x1="572.50" y1="2194.00" x2="572.50" y2="2186.60" stroke="#000" stroke-width="1"/>
<line x1="572.50" y1="1972.00" x2="572.50" y2="1979.40" stroke="#000" stroke-width="1"/>
<line x1="824.50" y1="2194.00" x2="824.50" y2="2186.60" stroke="#000" stroke-width="1"/>
<line x1="824.50" y1="1972.00" x2="824.50" y2="1979.40" stroke="#000" stroke-width="1"/>
<line x1="1077.50" y1="2194.00" x2="1077.50" y2="2186.60" stroke="#000" stroke-width="1"/>
<line x1="1077.50" y1="1972.00" x2="1077.50" y2="1979.40" stroke="#000" stroke-width="1"/>
<line x1="1329.50" y1="2194.00" x2="1329.50" y2="2186.60" stroke="#000" stroke-width="1"/>
<line x1="1329.50" y1="1972.00" x2="1329.50" y2="1979.40" stroke="#000" stroke-width="1"/>
<line x1="1582.50" y1="2194.00" x2="1582.50" y2="2186.60" stroke="#000" stroke-width="1"/>
<line x1="1582.50" y1="1972.00" x2="1582.50" y2="1979.40" stroke="#000" stroke-width="1"/>
<line x1="117.00" y1="2194.50" x2="124.40" y2="2194.50" stroke="#000" stroke-width="1"/>
<line x1="1683.00" y1="2194.50" x2="1675.60" y2="2194.50" stroke="#000" stroke-width="1"/>
<line x1="117.00" y1="2157.50" x2="124.40" y2="2157.50" stroke="#000" stroke-width="1"/>
<line x1="1683.00" y1="2157.50" x2="1675.60" y2="2157.50" stroke="#000" stroke-width="1"/>
<line x1="117.00" y1="2120.50" x2="124.40" y2="2120.50" stroke="#000" stroke-width="1"/>
<line x1="1683.00" y1="2120.50" x2="1675.60" y2="2120.50" stroke="#000" stroke-width="1"/>
<line x1="117.00" y1="2083.50" x2="124.40" y2="2083.50" stroke="#000" stroke-width="1"/>
<line x1="1683.00" y1="2083.50" x2="1675.60" y2="2083.50" stroke="#000" stroke-width="1"/>
<line x1="117.00" y1="2046.50" x2="124.40" y2="2046.50" stroke="#000" stroke-width="1"/>
<line x1="1683.00" y1="2046.50" x2="1675.60" y2="2046.50" stroke="#000" stroke-width="1"/>
<line x1="117.00" y1="2009.50" x2="124.40" y2="2009.50" stroke="#000" stroke-width="1"/>
<line x1="1683.00" y1="2009.50" x2="1675.60" y2="2009.50" stroke="#000" stroke-width="1"/>
<line x1="117.00" y1="1972.50" x2="124.40" y2="1972.50" stroke="#000" stroke-width="1"/>
<line x1="1683.00" y1="1972.50" x2="1675.60" y2="1972.50" stroke="#000" stroke-width="1"/>
<rect x="1604.1" y="1979.0" width="71.9" height="71.9" fill="#fff" stroke="#000" stroke-width="1.8"/>
<line x1="1613.00" y1="1992.20" x2="1636.20" y2="1992.20" stroke="#ff0000" stroke-width="2.1"/>
<line x1="1613.00" y1="2014.35" x2="1636.20" y2="2014.35" stroke="#008000" stroke-width="2.1"/>
<line x1="1613.00" y1="2036.50" x2="1636.20" y2="2036.50" stroke="#0000ff" stroke-width="2.1"/>
<clipPath id="c10"><rect x="117" y="2306" width="1566" height="222"/></clipPath><g clip-path="url(#c10)">
<polyline fill="none" stroke="#0000ff" stroke-width="2.1" stroke-linejoin="miter" stroke-miterlimit="6" points="117.6,2392.2 168.1,2405.4 218.6,2487.6 269.1,2338.4 319.6,2371.3 370.1,2394.9 420.6,2368.9 471.1,2492.7 521.6,2485.8 572.1,2496.0 622.6,2461.3 673.1,2392.8 723.6,2495.7 774.1,2419.4 824.6,2416.2 875.1,2419.7 925.6,2449.9 976.1,2442.2 1026.6,2477.4 1077.1,2421.5 1127.6,2440.4 1178.1,2505.8 1228.6,2441.9 1279.1,2497.8 1329.6,2489.7 1380.1,2461.6 1430.6,2442.2 1481.1,2471.2 1531.6,2435.6 1582.1,2388.1 1632.6,2313.3 1683.1,2412.0"/>
</g>
<rect x="117" y="2306" width="1566" height="222" fill="none" stroke="#000" stroke-width="2"/>
<line x1="319.50" y1="2528.00" x2="319.50" y2="2520.60" stroke="#000" stroke-width="1"/>
<line x1="319.50" y1="2306.00" x2="319.50" y2="2313.40" stroke="#000" stroke-width="1"/>
<line x1="572.50" y1="2528.00" x2="572.50" y2="2520.60" stroke="#000" stroke-width="1"/>
<line x1="572.50" y1="2306.00" x2="572.50" y2="2313.40" stroke="#000" stroke-width="1"/>
<line x1="824.50" y1="2528.00" x2="824.50" y2="2520.60" stroke="#000" stroke-width="1"/>
<line x1="824.50" y1="2306.00" x2="824.50" y2="2313.40" stroke="#000" stroke-width="1"/>
<line x1="1077.50" y1="2528.00" x2="1077.50" y2="2520.60" stroke="#000" stroke-width="1"/>
<line x1="1077.50" y1="2306.00" x2="1077.50" y2="2313.40" stroke="#000" stroke-width="1"/>
<line x1="1329.50" y1="2528.00" x2="1329.50" y2="2520.60" stroke="#000" stroke-width="1"/>
<line x1="1329.50" y1="2306.00" x2="1329.50" y2="2313.40" stroke="#000" stroke-width="1"/>
<line x1="1582.50" y1="2528.00" x2="1582.50" y2="2520.60" stroke="#000" stroke-width="1"/>
<line x1="1582.50" y1="2306.00" x2="1582.50" y2="2313.40" stroke="#000" stroke-width="1"/>
<line x1="117.00" y1="2527.50" x2="124.40" y2="2527.50" stroke="#000" stroke-width="1"/>
<line x1="1683.00" y1="2527.50" x2="1675.60" y2="2527.50" stroke="#000" stroke-width="1"/>
<line x1="117.00" y1="2496.50" x2="124.40" y2="2496.50" stroke="#000" stroke-width="1"/>
<line x1="1683.00" y1="2496.50" x2="1675.60" y2="2496.50" stroke="#000" stroke-width="1"/>
<line x1="117.00" y1="2464.50" x2="124.40" y2="2464.50" stroke="#000" stroke-width="1"/>
<line x1="1683.00" y1="2464.50" x2="1675.60" y2="2464.50" stroke="#000" stroke-width="1"/>
<line x1="117.00" y1="2432.50" x2="124.40" y2="2432.50" stroke="#000" stroke-width="1"/>
<line x1="1683.00" y1="2432.50" x2="1675.60" y2="2432.50" stroke="#000" stroke-width="1"/>
<line x1="117.00" y1="2401.50" x2="124.40" y2="2401.50" stroke="#000" stroke-width="1"/>
<line x1="1683.00" y1="2401.50" x2="1675.60" y2="2401.50" stroke="#000" stroke-width="1"/>
<line x1="117.00" y1="2369.50" x2="124.40" y2="2369.50" stroke="#000" stroke-width="1"/>
<line x1="1683.00" y1="2369.50" x2="1675.60" y2="2369.50" stroke="#000" stroke-width="1"/>
<line x1="117.00" y1="2337.50" x2="124.40" y2="2337.50" stroke="#000" stroke-width="1"/>
<line x1="1683.00" y1="2337.50" x2="1675.60" y2="2337.50" stroke="#000" stroke-width="1"/>
<line x1="117.00" y1="2305.50" x2="124.40" y2="2305.50" stroke="#000" stroke-width="1"/>
<line x1="1683.00" y1="2305.50" x2="1675.60" y2="2305.50" stroke="#000" stroke-width="1"/>
<clipPath id="c11"><rect x="117" y="2639" width="1566" height="222"/></clipPath><g clip-path="url(#c11)">
<polyline fill="none" stroke="#0000ff" stroke-width="2.1" stroke-linejoin="miter" stroke-miterlimit="6" points="117.6,2785.0 168.1,2777.2 218.6,2812.2 269.1,2687.6 319.6,2718.4 370.1,2748.8 420.6,2745.3 471.1,2831.4 521.6,2807.4 572.1,2794.0 622.6,2780.8 673.1,2704.6 723.6,2794.0 774.1,2732.1 824.6,2730.9 875.1,2732.4 925.6,2792.8 976.1,2786.8 1026.6,2780.5 1077.1,2733.6 1127.6,2705.8 1178.1,2797.9 1228.6,2764.7 1279.1,2784.4 1329.6,2789.8 1380.1,2753.6 1430.6,2746.8 1481.1,2731.5 1531.6,2716.3 1582.1,2691.7 1632.6,2667.5 1683.1,2668.1"/>
</g>
<rect x="117" y="2639" width="1566" height="222" fill="none" stroke="#000" stroke-width="2"/>
<line x1="319.50" y1="2861.00" x2="319.50" y2="2853.60" stroke="#000" stroke-width="1"/>
<line x1="319.50" y1="2639.00" x2="319.50" y2="2646.40" stroke="#000" stroke-width="1"/>
<line x1="572.50" y1="2861.00" x2="572.50" y2="2853.60" stroke="#000" stroke-width="1"/>
<line x1="572.50" y1="2639.00" x2="572.50" y2="2646.40" stroke="#000" stroke-width="1"/>
<line x1="824.50" y1="2861.00" x2="824.50" y2="2853.60" stroke="#000" stroke-width="1"/>
<line x1="824.50" y1="2639.00" x2="824.50" y2="2646.40" stroke="#000" stroke-width="1"/>
<line x1="1077.50" y1="2861.00" x2="1077.50" y2="2853.60" stroke="#000" stroke-width="1"/>
<line x1="1077.50" y1="2639.00" x2="1077.50" y2="2646.40" stroke="#000" stroke-width="1"/>
<line x1="1329.50" y1="2861.00" x2="1329.50" y2="2853.60" stroke="#000" stroke-width="1"/>
<line x1="1329.50" y1="2639.00" x2="1329.50" y2="2646.40" stroke="#000" stroke-width="1"/>
<line x1="1582.50" y1="2861.00" x2="1582.50" y2="2853.60" stroke="#000" stroke-width="1"/>
<line x1="1582.50" y1="2639.00" x2="1582.50" y2="2646.40" stroke="#000" stroke-width="1"/>
<line x1="117.00" y1="2861.50" x2="124.40" y2="2861.50" stroke="#000" stroke-width="1"/>
<line x1="1683.00" y1="2861.50" x2="1675.60" y2="2861.50" stroke="#000" stroke-width="1"/>
<line x1="117.00" y1="2829.50" x2="124.40" y2="2829.50" stroke="#000" stroke-width="1"/>
<line x1="1683.00" y1="2829.50" x2="1675.60" y2="2829.50" stroke="#000" stroke-width="1"/>
<line x1="117.00" y1="2797.50" x2="124.40" y2="2797.50" stroke="#000" stroke-width="1"/>
<line x1="1683.00" y1="2797.50" x2="1675.60" y2="2797.50" stroke="#000" stroke-width="1"/>
<line x1="117.00" y1="2766.50" x2="124.40" y2="2766.50" stroke="#000" stroke-width="1"/>
<line x1="1683.00" y1="2766.50" x2="1675.60" y2="2766.50" stroke="#000" stroke-width="1"/>
<line x1="117.00" y1="2734.50" x2="124.40" y2="2734.50" stroke="#000" stroke-width="1"/>
<line x1="1683.00" y1="2734.50" x2="1675.60" y2="2734.50" stroke="#000" stroke-width="1"/>
<line x1="117.00" y1="2702.50" x2="124.40" y2="2702.50" stroke="#000" stroke-width="1"/>
<line x1="1683.00" y1="2702.50" x2="1675.60" y2="2702.50" stroke="#000" stroke-width="1"/>
<line x1="117.00" y1="2671.50" x2="124.40" y2="2671.50" stroke="#000" stroke-width="1"/>
<line x1="1683.00" y1="2671.50" x2="1675.60" y2="2671.50" stroke="#000" stroke-width="1"/>
<line x1="117.00" y1="2639.50" x2="124.40" y2="2639.50" stroke="#000" stroke-width="1"/>
<line x1="1683.00" y1="2639.50" x2="1675.60" y2="2639.50" stroke="#000" stroke-width="1"/>
<clipPath id="c12"><rect x="117" y="2973" width="1566" height="222"/></clipPath><g clip-path="url(#c12)">
<polyline fill="none" stroke="#0000ff" stroke-width="2.1" stroke-linejoin="miter" stroke-miterlimit="6" points="117.6,2992.4 168.1,3050.7 218.6,3146.6 269.1,3040.2 319.6,3037.2 370.1,3033.9 420.6,2994.5 471.1,3138.6 521.6,3148.4 572.1,3156.2 622.6,3101.8 673.1,3064.7 723.6,3156.2 774.1,3076.1 824.6,3080.3 875.1,3073.7 925.6,3066.8 976.1,3059.9 1026.6,3120.9 1077.1,3065.6 1127.6,3135.9 1178.1,3183.7 1228.6,3082.7 1279.1,3164.3 1329.6,3147.5 1380.1,3130.5 1430.6,3105.4 1481.1,3161.0 1531.6,3110.5 1582.1,3072.2 1632.6,3034.8 1683.1,3122.4"/>
</g>
<rect x="117" y="2973" width="1566" height="222" fill="none" stroke="#000" stroke-width="2"/>
<line x1="319.50" y1="3195.00" x2="319.50" y2="3187.60" stroke="#000" stroke-width="1"/>
<line x1="319.50" y1="2973.00" x2="319.50" y2="2980.40" stroke="#000" stroke-width="1"/>
<line x1="572.50" y1="3195.00" x2="572.50" y2="3187.60" stroke="#000" stroke-width="1"/>
<line x1="572.50" y1="2973.00" x2="572.50" y2="2980.40" stroke="#000" stroke-width="1"/>
<line x1="824.50" y1="3195.00" x2="824.50" y2="3187.60" stroke="#000" stroke-width="1"/>
<line x1="824.50" y1="2973.00" x2="824.50" y2="2980.40" stroke="#000" stroke-width="1"/>
<line x1="1077.50" y1="3195.00" x2="1077.50" y2="3187.60" stroke="#000" stroke-width="1"/>
<line x1="1077.50" y1="2973.00" x2="1077.50" y2="2980.40" stroke="#000" stroke-width="1"/>
<line x1="1329.50" y1="3195.00" x2="1329.50" y2="3187.60" stroke="#000" stroke-width="1"/>
<line x1="1329.50" y1="2973.00" x2="1329.50" y2="2980.40" stroke="#000" stroke-width="1"/>
<line x1="1582.50" y1="3195.00" x2="1582.50" y2="3187.60" stroke="#000" stroke-width="1"/>
<line x1="1582.50" y1="2973.00" x2="1582.50" y2="2980.40" stroke="#000" stroke-width="1"/>
<line x1="117.00" y1="3194.50" x2="124.40" y2="3194.50" stroke="#000" stroke-width="1"/>
<line x1="1683.00" y1="3194.50" x2="1675.60" y2="3194.50" stroke="#000" stroke-width="1"/>
<line x1="117.00" y1="3157.50" x2="124.40" y2="3157.50" stroke="#000" stroke-width="1"/>
<line x1="1683.00" y1="3157.50" x2="1675.60" y2="3157.50" stroke="#000" stroke-width="1"/>
<line x1="117.00" y1="3120.50" x2="124.40" y2="3120.50" stroke="#000" stroke-width="1"/>
<line x1="1683.00" y1="3120.50" x2="1675.60" y2="3120.50" stroke="#000" stroke-width="1"/>
<line x1="117.00" y1="3083.50" x2="124.40" y2="3083.50" stroke="#000" stroke-width="1"/>
<line x1="1683.00" y1="3083.50" x2="1675.60" y2="3083.50" stroke="#000" stroke-width="1"/>
<line x1="117.00" y1="3046.50" x2="124.40" y2="3046.50" stroke="#000" stroke-width="1"/>
<line x1="1683.00" y1="3046.50" x2="1675.60" y2="3046.50" stroke="#000" stroke-width="1"/>
<line x1="117.00" y1="3009.50" x2="124.40" y2="3009.50" stroke="#000" stroke-width="1"/>
<line x1="1683.00" y1="3009.50" x2="1675.60" y2="3009.50" stroke="#000" stroke-width="1"/>
<line x1="117.00" y1="2972.50" x2="124.40" y2="2972.50" stroke="#000" stroke-width="1"/>
<line x1="1683.00" y1="2972.50" x2="1675.60" y2="2972.50" stroke="#000" stroke-width="1"/>
<line x1="1040.6" y1="2966.6" x2="1049.3" y2="2943.2" stroke="#000" stroke-width="1.3"/>
<rect x="124.0" y="2980.0" width="71.2" height="27.3" fill="#fff" stroke="#000" stroke-width="1.8"/>
<line x1="132.90" y1="2993.20" x2="156.10" y2="2993.20" stroke="#0000ff" stroke-width="2.1"/>
<g opacity="0.999">
<text x="142.4" y="560.0" font-family='"Liberation Sans", sans-serif' font-size="16.97" text-anchor="middle" textLength="72.3" lengthAdjust="spacingAndGlyphs" fill="#000">−0.0150</text>
<text x="205.4" y="560.0" font-family='"Liberation Sans", sans-serif' font-size="16.97" text-anchor="middle" textLength="72.3" lengthAdjust="spacingAndGlyphs" fill="#000">−0.0125</text>
<text x="268.4" y="560.0" font-family='"Liberation Sans", sans-serif' font-size="16.97" text-anchor="middle" textLength="72.3" lengthAdjust="spacingAndGlyphs" fill="#000">−0.0100</text>
<text x="331.4" y="560.0" font-family='"Liberation Sans", sans-serif' font-size="16.97" text-anchor="middle" textLength="72.3" lengthAdjust="spacingAndGlyphs" fill="#000">−0.0075</text>
<text x="394.4" y="560.0" font-family='"Liberation Sans", sans-serif' font-size="16.97" text-anchor="middle" textLength="72.3" lengthAdjust="spacingAndGlyphs" fill="#000">−0.0050</text>
<text x="457.4" y="560.0" font-family='"Liberation Sans", sans-serif' font-size="16.97" text-anchor="middle" textLength="72.3" lengthAdjust="spacingAndGlyphs" fill="#000">−0.0025</text>
<text x="520.4" y="560.0" font-family='"Liberation Sans", sans-serif' font-size="16.97" text-anchor="middle" textLength="58.3" lengthAdjust="spacingAndGlyphs" fill="#000">0.0000</text>
<text x="108.2" y="526.7" font-family='"Liberation Sans", sans-serif' font-size="16.97" text-anchor="end" textLength="37.1" lengthAdjust="spacingAndGlyphs" fill="#000">2.25</text>
<text x="108.2" y="478.0" font-family='"Liberation Sans", sans-serif' font-size="16.97" text-anchor="end" textLength="37.1" lengthAdjust="spacingAndGlyphs" fill="#000">2.40</text>
<text x="108.2" y="429.3" font-family='"Liberation Sans", sans-serif' font-size="16.97" text-anchor="end" textLength="37.1" lengthAdjust="spacingAndGlyphs" fill="#000">2.55</text>
<text x="108.2" y="380.7" font-family='"Liberation Sans", sans-serif' font-size="16.97" text-anchor="end" textLength="37.1" lengthAdjust="spacingAndGlyphs" fill="#000">2.70</text>
<text x="108.2" y="332.0" font-family='"Liberation Sans", sans-serif' font-size="16.97" text-anchor="end" textLength="37.1" lengthAdjust="spacingAndGlyphs" fill="#000">2.85</text>
<text x="108.2" y="283.3" font-family='"Liberation Sans", sans-serif' font-size="16.97" text-anchor="end" textLength="37.1" lengthAdjust="spacingAndGlyphs" fill="#000">3.00</text>
<text x="108.2" y="234.7" font-family='"Liberation Sans", sans-serif' font-size="16.97" text-anchor="end" textLength="37.1" lengthAdjust="spacingAndGlyphs" fill="#000">3.15</text>
<text x="108.2" y="186.0" font-family='"Liberation Sans", sans-serif' font-size="16.97" text-anchor="end" textLength="37.1" lengthAdjust="spacingAndGlyphs" fill="#000">3.30</text>
<text x="108.2" y="137.3" font-family='"Liberation Sans", sans-serif' font-size="16.97" text-anchor="end" textLength="37.1" lengthAdjust="spacingAndGlyphs" fill="#000">3.45</text>
<text x="108.2" y="88.6" font-family='"Liberation Sans", sans-serif' font-size="16.97" text-anchor="end" textLength="37.1" lengthAdjust="spacingAndGlyphs" fill="#000">3.60</text>
<text x="344.0" y="74.0" font-family='"Liberation Sans", sans-serif' font-size="23.36" text-anchor="middle" textLength="236.1" lengthAdjust="spacingAndGlyphs" fill="#000">Transverse pressure</text>
<text x="344.0" y="591.0" font-family='"Liberation Sans", sans-serif' font-size="16.97" text-anchor="middle" textLength="66.0" lengthAdjust="spacingAndGlyphs" fill="#000">A' (T·m)</text>
<text x="55.9" y="312.3" font-family='"Liberation Sans", sans-serif' font-size="16.97" text-anchor="middle" textLength="70.3" lengthAdjust="spacingAndGlyphs" transform="rotate(-90 55.9 312.3)" fill="#000">Pt' (nPa)</text>
<text x="171.9" y="499.9" font-family='"Liberation Sans", sans-serif' font-size="15.56" text-anchor="start" textLength="93.8" lengthAdjust="spacingAndGlyphs" fill="#000">1st half path</text>
<text x="171.9" y="521.5" font-family='"Liberation Sans", sans-serif' font-size="15.56" text-anchor="start" textLength="98.7" lengthAdjust="spacingAndGlyphs" fill="#000">2nd half path</text>
<text x="716.0" y="560.0" font-family='"Liberation Sans", sans-serif' font-size="16.97" text-anchor="middle" textLength="35.2" lengthAdjust="spacingAndGlyphs" fill="#000">−60</text>
<text x="772.8" y="560.0" font-family='"Liberation Sans", sans-serif' font-size="16.97" text-anchor="middle" textLength="35.2" lengthAdjust="spacingAndGlyphs" fill="#000">−40</text>
<text x="829.5" y="560.0" font-family='"Liberation Sans", sans-serif' font-size="16.97" text-anchor="middle" textLength="35.2" lengthAdjust="spacingAndGlyphs" fill="#000">−20</text>
<text x="886.3" y="560.0" font-family='"Liberation Sans", sans-serif' font-size="16.97" text-anchor="middle" fill="#000">0</text>
<text x="943.0" y="560.0" font-family='"Liberation Sans", sans-serif' font-size="16.97" text-anchor="middle" textLength="21.2" lengthAdjust="spacingAndGlyphs" fill="#000">20</text>
<text x="999.8" y="560.0" font-family='"Liberation Sans", sans-serif' font-size="16.97" text-anchor="middle" textLength="21.2" lengthAdjust="spacingAndGlyphs" fill="#000">40</text>
<text x="1056.5" y="560.0" font-family='"Liberation Sans", sans-serif' font-size="16.97" text-anchor="middle" textLength="21.2" lengthAdjust="spacingAndGlyphs" fill="#000">60</text>
<text x="1113.3" y="560.0" font-family='"Liberation Sans", sans-serif' font-size="16.97" text-anchor="middle" textLength="21.2" lengthAdjust="spacingAndGlyphs" fill="#000">80</text>
<text x="664.2" y="542.7" font-family='"Liberation Sans", sans-serif' font-size="16.97" text-anchor="end" textLength="35.2" lengthAdjust="spacingAndGlyphs" fill="#000">−60</text>
<text x="664.2" y="485.9" font-family='"Liberation Sans", sans-serif' font-size="16.97" text-anchor="end" textLength="35.2" lengthAdjust="spacingAndGlyphs" fill="#000">−40</text>
<text x="664.2" y="429.2" font-family='"Liberation Sans", sans-serif' font-size="16.97" text-anchor="end" textLength="35.2" lengthAdjust="spacingAndGlyphs" fill="#000">−20</text>
<text x="664.2" y="372.4" font-family='"Liberation Sans", sans-serif' font-size="16.97" text-anchor="end" fill="#000">0</text>
<text x="664.2" y="315.7" font-family='"Liberation Sans", sans-serif' font-size="16.97" text-anchor="end" textLength="21.2" lengthAdjust="spacingAndGlyphs" fill="#000">20</text>
<text x="664.2" y="258.9" font-family='"Liberation Sans", sans-serif' font-size="16.97" text-anchor="end" textLength="21.2" lengthAdjust="spacingAndGlyphs" fill="#000">40</text>
<text x="664.2" y="202.2" font-family='"Liberation Sans", sans-serif' font-size="16.97" text-anchor="end" textLength="21.2" lengthAdjust="spacingAndGlyphs" fill="#000">60</text>
<text x="664.2" y="145.4" font-family='"Liberation Sans", sans-serif' font-size="16.97" text-anchor="end" textLength="21.2" lengthAdjust="spacingAndGlyphs" fill="#000">80</text>
<text x="664.2" y="88.7" font-family='"Liberation Sans", sans-serif' font-size="16.97" text-anchor="end" textLength="31.8" lengthAdjust="spacingAndGlyphs" fill="#000">100</text>
<text x="899.4" y="74.0" font-family='"Liberation Sans", sans-serif' font-size="23.36" text-anchor="middle" textLength="361.3" lengthAdjust="spacingAndGlyphs" fill="#000">Hodogram(V2_V1 MVAB frame)</text>
<text x="900.0" y="588.4" font-family='"Liberation Sans", sans-serif' font-size="16.97" text-anchor="middle" textLength="75.2" lengthAdjust="spacingAndGlyphs" fill="#000">V2(km/s)</text>
<text x="614.2" y="313.3" font-family='"Liberation Sans", sans-serif' font-size="16.97" text-anchor="middle" textLength="75.2" lengthAdjust="spacingAndGlyphs" transform="rotate(-90 614.2 313.3)" fill="#000">V1(km/s)</text>
<text x="1054.6" y="111.0" font-family='"Liberation Sans", sans-serif' font-size="15.56" text-anchor="start" textLength="15.6" lengthAdjust="spacingAndGlyphs" fill="#000">B/</text>
<text x="1082.3" y="111.6" font-family='"Liberation Serif", serif' font-size="14.25" text-anchor="start" font-style="italic" fill="#000">μ</text>
<text x="1091.3" y="114.2" font-family='"Liberation Serif", serif' font-size="10.18" text-anchor="start" fill="#000">0</text>
<text x="1097.0" y="111.6" font-family='"Liberation Serif", serif' font-size="14.25" text-anchor="start" font-style="italic" fill="#000">ρ</text>
<text x="1054.0" y="137.6" font-family='"Liberation Sans", sans-serif' font-size="15.56" text-anchor="start" fill="#000">V</text>
<text x="1064.2" y="139.3" font-family='"Liberation Serif", serif' font-size="10.89" text-anchor="start" font-style="italic" textLength="49.6" lengthAdjust="spacingAndGlyphs" fill="#000">remaining</text>
<text x="685.5" y="515.6" font-family='"Liberation Serif", serif' font-size="18.83" text-anchor="start" font-style="italic" fill="#000">λ</text>
<text x="695.2" y="518.8" font-family='"Liberation Serif", serif' font-size="12.72" text-anchor="start" fill="#000">1</text>
<text x="713.8" y="515.6" font-family='"Liberation Serif", serif' font-size="18.83" text-anchor="start" font-style="italic" fill="#000">λ</text>
<text x="723.0" y="518.8" font-family='"Liberation Serif", serif' font-size="12.72" text-anchor="start" fill="#000">2</text>
<text x="755.8" y="515.6" font-family='"Liberation Sans", sans-serif' font-size="18.93" text-anchor="start" textLength="29.6" lengthAdjust="spacingAndGlyphs" fill="#000">2.9</text>
<text x="1229.5" y="560.0" font-family='"Liberation Sans", sans-serif' font-size="16.97" text-anchor="middle" textLength="45.8" lengthAdjust="spacingAndGlyphs" fill="#000">−100</text>
<text x="1294.3" y="560.0" font-family='"Liberation Sans", sans-serif' font-size="16.97" text-anchor="middle" textLength="35.2" lengthAdjust="spacingAndGlyphs" fill="#000">−50</text>
<text x="1359.2" y="560.0" font-family='"Liberation Sans", sans-serif' font-size="16.97" text-anchor="middle" fill="#000">0</text>
<text x="1424.0" y="560.0" font-family='"Liberation Sans", sans-serif' font-size="16.97" text-anchor="middle" textLength="21.2" lengthAdjust="spacingAndGlyphs" fill="#000">50</text>
<text x="1488.9" y="560.0" font-family='"Liberation Sans", sans-serif' font-size="16.97" text-anchor="middle" textLength="31.8" lengthAdjust="spacingAndGlyphs" fill="#000">100</text>
<text x="1553.7" y="560.0" font-family='"Liberation Sans", sans-serif' font-size="16.97" text-anchor="middle" textLength="31.8" lengthAdjust="spacingAndGlyphs" fill="#000">150</text>
<text x="1618.6" y="560.0" font-family='"Liberation Sans", sans-serif' font-size="16.97" text-anchor="middle" textLength="31.8" lengthAdjust="spacingAndGlyphs" fill="#000">200</text>
<text x="1683.5" y="560.0" font-family='"Liberation Sans", sans-serif' font-size="16.97" text-anchor="middle" textLength="31.8" lengthAdjust="spacingAndGlyphs" fill="#000">250</text>
<text x="1220.2" y="536.2" font-family='"Liberation Sans", sans-serif' font-size="16.97" text-anchor="end" textLength="45.8" lengthAdjust="spacingAndGlyphs" fill="#000">−150</text>
<text x="1220.2" y="471.4" font-family='"Liberation Sans", sans-serif' font-size="16.97" text-anchor="end" textLength="45.8" lengthAdjust="spacingAndGlyphs" fill="#000">−100</text>
<text x="1220.2" y="406.5" font-family='"Liberation Sans", sans-serif' font-size="16.97" text-anchor="end" textLength="35.2" lengthAdjust="spacingAndGlyphs" fill="#000">−50</text>
<text x="1220.2" y="341.6" font-family='"Liberation Sans", sans-serif' font-size="16.97" text-anchor="end" fill="#000">0</text>
<text x="1220.2" y="276.8" font-family='"Liberation Sans", sans-serif' font-size="16.97" text-anchor="end" textLength="21.2" lengthAdjust="spacingAndGlyphs" fill="#000">50</text>
<text x="1220.2" y="211.9" font-family='"Liberation Sans", sans-serif' font-size="16.97" text-anchor="end" textLength="31.8" lengthAdjust="spacingAndGlyphs" fill="#000">100</text>
<text x="1220.2" y="147.1" font-family='"Liberation Sans", sans-serif' font-size="16.97" text-anchor="end" textLength="31.8" lengthAdjust="spacingAndGlyphs" fill="#000">150</text>
<text x="1455.5" y="74.0" font-family='"Liberation Sans", sans-serif' font-size="23.36" text-anchor="middle" textLength="361.0" lengthAdjust="spacingAndGlyphs" fill="#000">Hodogram(V3_V1 MVAB frame)</text>
<text x="1456.0" y="588.4" font-family='"Liberation Sans", sans-serif' font-size="16.97" text-anchor="middle" textLength="75.2" lengthAdjust="spacingAndGlyphs" fill="#000">V3(km/s)</text>
<text x="1160.2" y="313.3" font-family='"Liberation Sans", sans-serif' font-size="16.97" text-anchor="middle" textLength="75.2" lengthAdjust="spacingAndGlyphs" transform="rotate(-90 1160.2 313.3)" fill="#000">V1(km/s)</text>
<text x="1610.6" y="111.0" font-family='"Liberation Sans", sans-serif' font-size="15.56" text-anchor="start" textLength="15.6" lengthAdjust="spacingAndGlyphs" fill="#000">B/</text>
<text x="1638.3" y="111.6" font-family='"Liberation Serif", serif' font-size="14.25" text-anchor="start" font-style="italic" fill="#000">μ</text>
<text x="1647.3" y="114.2" font-family='"Liberation Serif", serif' font-size="10.18" text-anchor="start" fill="#000">0</text>
<text x="1653.0" y="111.6" font-family='"Liberation Serif", serif' font-size="14.25" text-anchor="start" font-style="italic" fill="#000">ρ</text>
<text x="1610.0" y="137.6" font-family='"Liberation Sans", sans-serif' font-size="15.56" text-anchor="start" fill="#000">V</text>
<text x="1620.2" y="139.3" font-family='"Liberation Serif", serif' font-size="10.89" text-anchor="start" font-style="italic" textLength="49.6" lengthAdjust="spacingAndGlyphs" fill="#000">remaining</text>
<text x="1261.4" y="515.6" font-family='"Liberation Serif", serif' font-size="18.83" text-anchor="start" font-style="italic" fill="#000">λ</text>
<text x="1271.1" y="518.8" font-family='"Liberation Serif", serif' font-size="12.72" text-anchor="start" fill="#000">1</text>
<text x="1289.7" y="515.6" font-family='"Liberation Serif", serif' font-size="18.83" text-anchor="start" font-style="italic" fill="#000">λ</text>
<text x="1298.9" y="518.8" font-family='"Liberation Serif", serif' font-size="12.72" text-anchor="start" fill="#000">3</text>
<text x="1331.6" y="515.6" font-family='"Liberation Sans", sans-serif' font-size="18.93" text-anchor="start" textLength="53.2" lengthAdjust="spacingAndGlyphs" fill="#000">22.31</text>
<text x="159.8" y="1138.0" font-family='"Liberation Sans", sans-serif' font-size="16.97" text-anchor="middle" textLength="45.8" lengthAdjust="spacingAndGlyphs" fill="#000">−100</text>
<text x="223.2" y="1138.0" font-family='"Liberation Sans", sans-serif' font-size="16.97" text-anchor="middle" textLength="35.2" lengthAdjust="spacingAndGlyphs" fill="#000">−50</text>
<text x="286.8" y="1138.0" font-family='"Liberation Sans", sans-serif' font-size="16.97" text-anchor="middle" fill="#000">0</text>
<text x="350.2" y="1138.0" font-family='"Liberation Sans", sans-serif' font-size="16.97" text-anchor="middle" textLength="21.2" lengthAdjust="spacingAndGlyphs" fill="#000">50</text>
<text x="413.8" y="1138.0" font-family='"Liberation Sans", sans-serif' font-size="16.97" text-anchor="middle" textLength="31.8" lengthAdjust="spacingAndGlyphs" fill="#000">100</text>
<text x="477.2" y="1138.0" font-family='"Liberation Sans", sans-serif' font-size="16.97" text-anchor="middle" textLength="31.8" lengthAdjust="spacingAndGlyphs" fill="#000">150</text>
<text x="540.8" y="1138.0" font-family='"Liberation Sans", sans-serif' font-size="16.97" text-anchor="middle" textLength="31.8" lengthAdjust="spacingAndGlyphs" fill="#000">200</text>
<text x="108.2" y="1078.3" font-family='"Liberation Sans", sans-serif' font-size="16.97" text-anchor="end" textLength="45.8" lengthAdjust="spacingAndGlyphs" fill="#000">−100</text>
<text x="108.2" y="1014.9" font-family='"Liberation Sans", sans-serif' font-size="16.97" text-anchor="end" textLength="35.2" lengthAdjust="spacingAndGlyphs" fill="#000">−50</text>
<text x="108.2" y="951.5" font-family='"Liberation Sans", sans-serif' font-size="16.97" text-anchor="end" fill="#000">0</text>
<text x="108.2" y="888.1" font-family='"Liberation Sans", sans-serif' font-size="16.97" text-anchor="end" textLength="21.2" lengthAdjust="spacingAndGlyphs" fill="#000">50</text>
<text x="108.2" y="824.7" font-family='"Liberation Sans", sans-serif' font-size="16.97" text-anchor="end" textLength="31.8" lengthAdjust="spacingAndGlyphs" fill="#000">100</text>
<text x="108.2" y="761.3" font-family='"Liberation Sans", sans-serif' font-size="16.97" text-anchor="end" textLength="31.8" lengthAdjust="spacingAndGlyphs" fill="#000">150</text>
<text x="108.2" y="697.9" font-family='"Liberation Sans", sans-serif' font-size="16.97" text-anchor="end" textLength="31.8" lengthAdjust="spacingAndGlyphs" fill="#000">200</text>
<text x="344.0" y="651.4" font-family='"Liberation Sans", sans-serif' font-size="23.36" text-anchor="middle" textLength="120.8" lengthAdjust="spacingAndGlyphs" fill="#000">WalenTest</text>
<text x="307.0" y="1167.3" font-family='"Liberation Sans", sans-serif' font-size="16.97" text-anchor="start" fill="#000">V</text>
<text x="319.3" y="1169.8" font-family='"Liberation Serif", serif' font-size="11.91" text-anchor="start" font-style="italic" fill="#000">A</text>
<text x="328.3" y="1167.3" font-family='"Liberation Sans", sans-serif' font-size="16.97" text-anchor="start" textLength="53.2" lengthAdjust="spacingAndGlyphs" fill="#000">(km/s)</text>
<text x="44.8" y="950.8" font-family='"Liberation Sans", sans-serif' font-size="16.97" text-anchor="start" transform="rotate(-90 44.8 950.8)" fill="#000">V</text>
<text x="47.0" y="937.3" font-family='"Liberation Serif", serif' font-size="11.91" text-anchor="start" font-style="italic" textLength="55.3" lengthAdjust="spacingAndGlyphs" transform="rotate(-90 47.0 937.3)" fill="#000">remaining</text>
<text x="44.8" y="882.3" font-family='"Liberation Sans", sans-serif' font-size="16.97" text-anchor="start" textLength="53.2" lengthAdjust="spacingAndGlyphs" transform="rotate(-90 44.8 882.3)" fill="#000">(km/s)</text>
<text x="128.5" y="686.6" font-family='"Liberation Sans", sans-serif' font-size="18.73" text-anchor="start" textLength="125.8" lengthAdjust="spacingAndGlyphs" fill="#000">slope = -0.37</text>
<text x="128.8" y="708.4" font-family='"Liberation Serif", serif' font-size="18.73" text-anchor="start" font-style="italic" fill="#000">r</text>
<text x="144.5" y="708.4" font-family='"Liberation Sans", sans-serif' font-size="18.73" text-anchor="start" textLength="82.3" lengthAdjust="spacingAndGlyphs" fill="#000">= -0.965</text>
<text x="129.5" y="730.4" font-family='"Liberation Serif", serif' font-size="18.73" text-anchor="start" font-style="italic" fill="#000">M</text>
<text x="147.5" y="733.6" font-family='"Liberation Serif", serif' font-size="13.13" text-anchor="start" font-style="italic" fill="#000">A</text>
<text x="165.0" y="730.4" font-family='"Liberation Sans", sans-serif' font-size="18.73" text-anchor="start" textLength="75.4" lengthAdjust="spacingAndGlyphs" fill="#000">= 0.384</text>
<text x="673.5" y="1138.0" font-family='"Liberation Sans", sans-serif' font-size="16.97" text-anchor="middle" textLength="35.2" lengthAdjust="spacingAndGlyphs" fill="#000">−60</text>
<text x="764.2" y="1138.0" font-family='"Liberation Sans", sans-serif' font-size="16.97" text-anchor="middle" textLength="35.2" lengthAdjust="spacingAndGlyphs" fill="#000">−40</text>
<text x="855.1" y="1138.0" font-family='"Liberation Sans", sans-serif' font-size="16.97" text-anchor="middle" textLength="35.2" lengthAdjust="spacingAndGlyphs" fill="#000">−20</text>
<text x="945.9" y="1138.0" font-family='"Liberation Sans", sans-serif' font-size="16.97" text-anchor="middle" fill="#000">0</text>
<text x="1036.7" y="1138.0" font-family='"Liberation Sans", sans-serif' font-size="16.97" text-anchor="middle" textLength="21.2" lengthAdjust="spacingAndGlyphs" fill="#000">20</text>
<text x="1127.5" y="1138.0" font-family='"Liberation Sans", sans-serif' font-size="16.97" text-anchor="middle" textLength="21.2" lengthAdjust="spacingAndGlyphs" fill="#000">40</text>
<text x="664.2" y="1120.7" font-family='"Liberation Sans", sans-serif' font-size="16.97" text-anchor="end" textLength="35.2" lengthAdjust="spacingAndGlyphs" fill="#000">−40</text>
<text x="664.2" y="1029.9" font-family='"Liberation Sans", sans-serif' font-size="16.97" text-anchor="end" textLength="35.2" lengthAdjust="spacingAndGlyphs" fill="#000">−20</text>
<text x="664.2" y="939.1" font-family='"Liberation Sans", sans-serif' font-size="16.97" text-anchor="end" fill="#000">0</text>
<text x="664.2" y="848.3" font-family='"Liberation Sans", sans-serif' font-size="16.97" text-anchor="end" textLength="21.2" lengthAdjust="spacingAndGlyphs" fill="#000">20</text>
<text x="664.2" y="757.5" font-family='"Liberation Sans", sans-serif' font-size="16.97" text-anchor="end" textLength="21.2" lengthAdjust="spacingAndGlyphs" fill="#000">40</text>
<text x="664.2" y="666.7" font-family='"Liberation Sans", sans-serif' font-size="16.97" text-anchor="end" textLength="21.2" lengthAdjust="spacingAndGlyphs" fill="#000">60</text>
<text x="679.7" y="650.0" font-family='"Liberation Sans", sans-serif' font-size="23.36" text-anchor="start" textLength="281.4" lengthAdjust="spacingAndGlyphs" fill="#000">Hodogram (V2_V1 MVAV</text>
<text x="960.7" y="652.0" font-family='"Liberation Serif", serif' font-size="16.29" text-anchor="start" font-style="italic" textLength="79.4" lengthAdjust="spacingAndGlyphs" fill="#000">remaining</text>
<text x="1045.7" y="650.0" font-family='"Liberation Sans", sans-serif' font-size="23.36" text-anchor="start" textLength="78.9" lengthAdjust="spacingAndGlyphs" fill="#000">frame)</text>
<text x="900.0" y="1166.4" font-family='"Liberation Sans", sans-serif' font-size="16.97" text-anchor="middle" textLength="75.2" lengthAdjust="spacingAndGlyphs" fill="#000">V2(km/s)</text>
<text x="614.2" y="890.3" font-family='"Liberation Sans", sans-serif' font-size="16.97" text-anchor="middle" textLength="75.2" lengthAdjust="spacingAndGlyphs" transform="rotate(-90 614.2 890.3)" fill="#000">V1(km/s)</text>
<text x="685.5" y="1093.6" font-family='"Liberation Serif", serif' font-size="18.83" text-anchor="start" font-style="italic" fill="#000">λ</text>
<text x="695.2" y="1096.8" font-family='"Liberation Serif", serif' font-size="12.72" text-anchor="start" fill="#000">1</text>
<text x="713.8" y="1093.6" font-family='"Liberation Serif", serif' font-size="18.83" text-anchor="start" font-style="italic" fill="#000">λ</text>
<text x="723.0" y="1096.8" font-family='"Liberation Serif", serif' font-size="12.72" text-anchor="start" fill="#000">2</text>
<text x="755.8" y="1093.6" font-family='"Liberation Sans", sans-serif' font-size="18.93" text-anchor="start" textLength="41.4" lengthAdjust="spacingAndGlyphs" fill="#000">1.18</text>
<text x="1274.9" y="1138.0" font-family='"Liberation Sans", sans-serif' font-size="16.97" text-anchor="middle" textLength="45.8" lengthAdjust="spacingAndGlyphs" fill="#000">−120</text>
<text x="1365.7" y="1138.0" font-family='"Liberation Sans", sans-serif' font-size="16.97" text-anchor="middle" textLength="45.8" lengthAdjust="spacingAndGlyphs" fill="#000">−100</text>
<text x="1456.5" y="1138.0" font-family='"Liberation Sans", sans-serif' font-size="16.97" text-anchor="middle" textLength="35.2" lengthAdjust="spacingAndGlyphs" fill="#000">−80</text>
<text x="1547.2" y="1138.0" font-family='"Liberation Sans", sans-serif' font-size="16.97" text-anchor="middle" textLength="35.2" lengthAdjust="spacingAndGlyphs" fill="#000">−60</text>
<text x="1638.1" y="1138.0" font-family='"Liberation Sans", sans-serif' font-size="16.97" text-anchor="middle" textLength="35.2" lengthAdjust="spacingAndGlyphs" fill="#000">−40</text>
<text x="1220.2" y="1120.7" font-family='"Liberation Sans", sans-serif' font-size="16.97" text-anchor="end" textLength="35.2" lengthAdjust="spacingAndGlyphs" fill="#000">−40</text>
<text x="1220.2" y="1029.9" font-family='"Liberation Sans", sans-serif' font-size="16.97" text-anchor="end" textLength="35.2" lengthAdjust="spacingAndGlyphs" fill="#000">−20</text>
<text x="1220.2" y="939.1" font-family='"Liberation Sans", sans-serif' font-size="16.97" text-anchor="end" fill="#000">0</text>
<text x="1220.2" y="848.3" font-family='"Liberation Sans", sans-serif' font-size="16.97" text-anchor="end" textLength="21.2" lengthAdjust="spacingAndGlyphs" fill="#000">20</text>
<text x="1220.2" y="757.5" font-family='"Liberation Sans", sans-serif' font-size="16.97" text-anchor="end" textLength="21.2" lengthAdjust="spacingAndGlyphs" fill="#000">40</text>
<text x="1220.2" y="666.7" font-family='"Liberation Sans", sans-serif' font-size="16.97" text-anchor="end" textLength="21.2" lengthAdjust="spacingAndGlyphs" fill="#000">60</text>
<text x="1235.7" y="650.0" font-family='"Liberation Sans", sans-serif' font-size="23.36" text-anchor="start" textLength="281.4" lengthAdjust="spacingAndGlyphs" fill="#000">Hodogram (V3_V1 MVAV</text>
<text x="1516.7" y="652.0" font-family='"Liberation Serif", serif' font-size="16.29" text-anchor="start" font-style="italic" textLength="79.4" lengthAdjust="spacingAndGlyphs" fill="#000">remaining</text>
<text x="1601.7" y="650.0" font-family='"Liberation Sans", sans-serif' font-size="23.36" text-anchor="start" textLength="78.9" lengthAdjust="spacingAndGlyphs" fill="#000">frame)</text>
<text x="1456.0" y="1166.4" font-family='"Liberation Sans", sans-serif' font-size="16.97" text-anchor="middle" textLength="75.2" lengthAdjust="spacingAndGlyphs" fill="#000">V3(km/s)</text>
<text x="1170.2" y="890.3" font-family='"Liberation Sans", sans-serif' font-size="16.97" text-anchor="middle" textLength="75.2" lengthAdjust="spacingAndGlyphs" transform="rotate(-90 1170.2 890.3)" fill="#000">V1(km/s)</text>
<text x="1261.4" y="1093.6" font-family='"Liberation Serif", serif' font-size="18.83" text-anchor="start" font-style="italic" fill="#000">λ</text>
<text x="1271.1" y="1096.8" font-family='"Liberation Serif", serif' font-size="12.72" text-anchor="start" fill="#000">1</text>
<text x="1289.7" y="1093.6" font-family='"Liberation Serif", serif' font-size="18.83" text-anchor="start" font-style="italic" fill="#000">λ</text>
<text x="1298.9" y="1096.8" font-family='"Liberation Serif", serif' font-size="12.72" text-anchor="start" fill="#000">3</text>
<text x="1331.6" y="1093.6" font-family='"Liberation Sans", sans-serif' font-size="18.93" text-anchor="start" textLength="29.6" lengthAdjust="spacingAndGlyphs" fill="#000">7.1</text>
<text x="319.6" y="1549.3" font-family='"Liberation Sans", sans-serif' font-size="16.97" text-anchor="middle" textLength="128.2" lengthAdjust="spacingAndGlyphs" fill="#000">12/31 12:32:22</text>
<text x="572.1" y="1549.3" font-family='"Liberation Sans", sans-serif' font-size="16.97" text-anchor="middle" textLength="128.2" lengthAdjust="spacingAndGlyphs" fill="#000">12/31 12:32:27</text>
<text x="824.6" y="1549.3" font-family='"Liberation Sans", sans-serif' font-size="16.97" text-anchor="middle" textLength="128.2" lengthAdjust="spacingAndGlyphs" fill="#000">12/31 12:32:32</text>
<text x="1077.1" y="1549.3" font-family='"Liberation Sans", sans-serif' font-size="16.97" text-anchor="middle" textLength="128.2" lengthAdjust="spacingAndGlyphs" fill="#000">12/31 12:32:37</text>
<text x="1329.6" y="1549.3" font-family='"Liberation Sans", sans-serif' font-size="16.97" text-anchor="middle" textLength="128.2" lengthAdjust="spacingAndGlyphs" fill="#000">12/31 12:32:42</text>
<text x="1582.1" y="1549.3" font-family='"Liberation Sans", sans-serif' font-size="16.97" text-anchor="middle" textLength="128.2" lengthAdjust="spacingAndGlyphs" fill="#000">12/31 12:32:47</text>
<text x="108.2" y="1531.6" font-family='"Liberation Sans", sans-serif' font-size="16.97" text-anchor="end" textLength="35.2" lengthAdjust="spacingAndGlyphs" fill="#000">−60</text>
<text x="108.2" y="1506.9" font-family='"Liberation Sans", sans-serif' font-size="16.97" text-anchor="end" textLength="35.2" lengthAdjust="spacingAndGlyphs" fill="#000">−40</text>
<text x="108.2" y="1482.3" font-family='"Liberation Sans", sans-serif' font-size="16.97" text-anchor="end" textLength="35.2" lengthAdjust="spacingAndGlyphs" fill="#000">−20</text>
<text x="108.2" y="1457.6" font-family='"Liberation Sans", sans-serif' font-size="16.97" text-anchor="end" fill="#000">0</text>
<text x="108.2" y="1432.9" font-family='"Liberation Sans", sans-serif' font-size="16.97" text-anchor="end" textLength="21.2" lengthAdjust="spacingAndGlyphs" fill="#000">20</text>
<text x="108.2" y="1408.3" font-family='"Liberation Sans", sans-serif' font-size="16.97" text-anchor="end" textLength="21.2" lengthAdjust="spacingAndGlyphs" fill="#000">40</text>
<text x="108.2" y="1383.6" font-family='"Liberation Sans", sans-serif' font-size="16.97" text-anchor="end" textLength="21.2" lengthAdjust="spacingAndGlyphs" fill="#000">60</text>
<text x="108.2" y="1358.9" font-family='"Liberation Sans", sans-serif' font-size="16.97" text-anchor="end" textLength="21.2" lengthAdjust="spacingAndGlyphs" fill="#000">80</text>
<text x="108.2" y="1334.3" font-family='"Liberation Sans", sans-serif' font-size="16.97" text-anchor="end" textLength="31.8" lengthAdjust="spacingAndGlyphs" fill="#000">100</text>
<text x="108.2" y="1309.6" font-family='"Liberation Sans", sans-serif' font-size="16.97" text-anchor="end" textLength="31.8" lengthAdjust="spacingAndGlyphs" fill="#000">120</text>
<text x="900.0" y="1294.5" font-family='"Liberation Sans", sans-serif' font-size="23.36" text-anchor="middle" textLength="320.4" lengthAdjust="spacingAndGlyphs" fill="#000">Magnetic Field (RTN Frame)</text>
<text x="60.5" y="1418.3" font-family='"Liberation Sans", sans-serif' font-size="16.97" text-anchor="middle" textLength="45.2" lengthAdjust="spacingAndGlyphs" transform="rotate(-90 60.5 1418.3)" fill="#000">B(nT)</text>
<text x="1651.7" y="1329.9" font-family='"Liberation Sans", sans-serif' font-size="15.56" text-anchor="start" textLength="16.8" lengthAdjust="spacingAndGlyphs" fill="#000">Br</text>
<text x="1651.7" y="1352.1" font-family='"Liberation Sans", sans-serif' font-size="15.56" text-anchor="start" textLength="16.5" lengthAdjust="spacingAndGlyphs" fill="#000">Bt</text>
<text x="1651.7" y="1374.2" font-family='"Liberation Sans", sans-serif' font-size="15.56" text-anchor="start" textLength="20.2" lengthAdjust="spacingAndGlyphs" fill="#000">Bn</text>
<text x="319.6" y="1883.3" font-family='"Liberation Sans", sans-serif' font-size="16.97" text-anchor="middle" textLength="128.2" lengthAdjust="spacingAndGlyphs" fill="#000">12/31 12:32:22</text>
<text x="572.1" y="1883.3" font-family='"Liberation Sans", sans-serif' font-size="16.97" text-anchor="middle" textLength="128.2" lengthAdjust="spacingAndGlyphs" fill="#000">12/31 12:32:27</text>
<text x="824.6" y="1883.3" font-family='"Liberation Sans", sans-serif' font-size="16.97" text-anchor="middle" textLength="128.2" lengthAdjust="spacingAndGlyphs" fill="#000">12/31 12:32:32</text>
<text x="1077.1" y="1883.3" font-family='"Liberation Sans", sans-serif' font-size="16.97" text-anchor="middle" textLength="128.2" lengthAdjust="spacingAndGlyphs" fill="#000">12/31 12:32:37</text>
<text x="1329.6" y="1883.3" font-family='"Liberation Sans", sans-serif' font-size="16.97" text-anchor="middle" textLength="128.2" lengthAdjust="spacingAndGlyphs" fill="#000">12/31 12:32:42</text>
<text x="1582.1" y="1883.3" font-family='"Liberation Sans", sans-serif' font-size="16.97" text-anchor="middle" textLength="128.2" lengthAdjust="spacingAndGlyphs" fill="#000">12/31 12:32:47</text>
<text x="108.2" y="1865.1" font-family='"Liberation Sans", sans-serif' font-size="16.97" text-anchor="end" textLength="45.8" lengthAdjust="spacingAndGlyphs" fill="#000">−100</text>
<text x="108.2" y="1820.7" font-family='"Liberation Sans", sans-serif' font-size="16.97" text-anchor="end" textLength="35.2" lengthAdjust="spacingAndGlyphs" fill="#000">−50</text>
<text x="108.2" y="1776.3" font-family='"Liberation Sans", sans-serif' font-size="16.97" text-anchor="end" fill="#000">0</text>
<text x="108.2" y="1731.9" font-family='"Liberation Sans", sans-serif' font-size="16.97" text-anchor="end" textLength="21.2" lengthAdjust="spacingAndGlyphs" fill="#000">50</text>
<text x="108.2" y="1687.5" font-family='"Liberation Sans", sans-serif' font-size="16.97" text-anchor="end" textLength="31.8" lengthAdjust="spacingAndGlyphs" fill="#000">100</text>
<text x="108.2" y="1643.1" font-family='"Liberation Sans", sans-serif' font-size="16.97" text-anchor="end" textLength="31.8" lengthAdjust="spacingAndGlyphs" fill="#000">150</text>
<text x="900.0" y="1628.5" font-family='"Liberation Sans", sans-serif' font-size="23.36" text-anchor="middle" textLength="387.4" lengthAdjust="spacingAndGlyphs" fill="#000">Magnetic Field (Flux Rope Frame)</text>
<text x="48.8" y="1752.3" font-family='"Liberation Sans", sans-serif' font-size="16.97" text-anchor="middle" textLength="45.2" lengthAdjust="spacingAndGlyphs" transform="rotate(-90 48.8 1752.3)" fill="#000">B(nT)</text>
<text x="1648.7" y="1663.9" font-family='"Liberation Sans", sans-serif' font-size="15.56" text-anchor="start" textLength="23.7" lengthAdjust="spacingAndGlyphs" fill="#000">Bx'</text>
<text x="1648.7" y="1686.1" font-family='"Liberation Sans", sans-serif' font-size="15.56" text-anchor="start" textLength="23.7" lengthAdjust="spacingAndGlyphs" fill="#000">By'</text>
<text x="1648.7" y="1708.2" font-family='"Liberation Sans", sans-serif' font-size="15.56" text-anchor="start" textLength="22.7" lengthAdjust="spacingAndGlyphs" fill="#000">Bz'</text>
<text x="1648.7" y="1730.4" font-family='"Liberation Sans", sans-serif' font-size="15.56" text-anchor="start" textLength="20.8" lengthAdjust="spacingAndGlyphs" fill="#000">|B|</text>
<text x="319.6" y="2216.3" font-family='"Liberation Sans", sans-serif' font-size="16.97" text-anchor="middle" textLength="128.2" lengthAdjust="spacingAndGlyphs" fill="#000">12/31 12:32:22</text>
<text x="572.1" y="2216.3" font-family='"Liberation Sans", sans-serif' font-size="16.97" text-anchor="middle" textLength="128.2" lengthAdjust="spacingAndGlyphs" fill="#000">12/31 12:32:27</text>
<text x="824.6" y="2216.3" font-family='"Liberation Sans", sans-serif' font-size="16.97" text-anchor="middle" textLength="128.2" lengthAdjust="spacingAndGlyphs" fill="#000">12/31 12:32:32</text>
<text x="1077.1" y="2216.3" font-family='"Liberation Sans", sans-serif' font-size="16.97" text-anchor="middle" textLength="128.2" lengthAdjust="spacingAndGlyphs" fill="#000">12/31 12:32:37</text>
<text x="1329.6" y="2216.3" font-family='"Liberation Sans", sans-serif' font-size="16.97" text-anchor="middle" textLength="128.2" lengthAdjust="spacingAndGlyphs" fill="#000">12/31 12:32:42</text>
<text x="1582.1" y="2216.3" font-family='"Liberation Sans", sans-serif' font-size="16.97" text-anchor="middle" textLength="128.2" lengthAdjust="spacingAndGlyphs" fill="#000">12/31 12:32:47</text>
<text x="108.2" y="2198.6" font-family='"Liberation Sans", sans-serif' font-size="16.97" text-anchor="end" textLength="45.8" lengthAdjust="spacingAndGlyphs" fill="#000">−200</text>
<text x="108.2" y="2161.6" font-family='"Liberation Sans", sans-serif' font-size="16.97" text-anchor="end" textLength="45.8" lengthAdjust="spacingAndGlyphs" fill="#000">−100</text>
<text x="108.2" y="2124.6" font-family='"Liberation Sans", sans-serif' font-size="16.97" text-anchor="end" fill="#000">0</text>
<text x="108.2" y="2087.6" font-family='"Liberation Sans", sans-serif' font-size="16.97" text-anchor="end" textLength="31.8" lengthAdjust="spacingAndGlyphs" fill="#000">100</text>
<text x="108.2" y="2050.6" font-family='"Liberation Sans", sans-serif' font-size="16.97" text-anchor="end" textLength="31.8" lengthAdjust="spacingAndGlyphs" fill="#000">200</text>
<text x="108.2" y="2013.6" font-family='"Liberation Sans", sans-serif' font-size="16.97" text-anchor="end" textLength="31.8" lengthAdjust="spacingAndGlyphs" fill="#000">300</text>
<text x="108.2" y="1976.6" font-family='"Liberation Sans", sans-serif' font-size="16.97" text-anchor="end" textLength="31.8" lengthAdjust="spacingAndGlyphs" fill="#000">400</text>
<text x="900.0" y="1961.5" font-family='"Liberation Sans", sans-serif' font-size="23.36" text-anchor="middle" textLength="377.4" lengthAdjust="spacingAndGlyphs" fill="#000">Solar Wind Velocity (RTN Frame)</text>
<text x="48.1" y="2085.3" font-family='"Liberation Sans", sans-serif' font-size="16.97" text-anchor="middle" textLength="86.9" lengthAdjust="spacingAndGlyphs" transform="rotate(-90 48.1 2085.3)" fill="#000">Vsw(km/s)</text>
<text x="1651.7" y="1996.9" font-family='"Liberation Sans", sans-serif' font-size="15.56" text-anchor="start" textLength="16.7" lengthAdjust="spacingAndGlyphs" fill="#000">Vr</text>
<text x="1651.7" y="2019.1" font-family='"Liberation Sans", sans-serif' font-size="15.56" text-anchor="start" textLength="16.4" lengthAdjust="spacingAndGlyphs" fill="#000">Vt</text>
<text x="1651.7" y="2041.2" font-family='"Liberation Sans", sans-serif' font-size="15.56" text-anchor="start" textLength="20.1" lengthAdjust="spacingAndGlyphs" fill="#000">Vn</text>
<text x="319.6" y="2550.3" font-family='"Liberation Sans", sans-serif' font-size="16.97" text-anchor="middle" textLength="128.2" lengthAdjust="spacingAndGlyphs" fill="#000">12/31 12:32:22</text>
<text x="572.1" y="2550.3" font-family='"Liberation Sans", sans-serif' font-size="16.97" text-anchor="middle" textLength="128.2" lengthAdjust="spacingAndGlyphs" fill="#000">12/31 12:32:27</text>
<text x="824.6" y="2550.3" font-family='"Liberation Sans", sans-serif' font-size="16.97" text-anchor="middle" textLength="128.2" lengthAdjust="spacingAndGlyphs" fill="#000">12/31 12:32:32</text>
<text x="1077.1" y="2550.3" font-family='"Liberation Sans", sans-serif' font-size="16.97" text-anchor="middle" textLength="128.2" lengthAdjust="spacingAndGlyphs" fill="#000">12/31 12:32:37</text>
<text x="1329.6" y="2550.3" font-family='"Liberation Sans", sans-serif' font-size="16.97" text-anchor="middle" textLength="128.2" lengthAdjust="spacingAndGlyphs" fill="#000">12/31 12:32:42</text>
<text x="1582.1" y="2550.3" font-family='"Liberation Sans", sans-serif' font-size="16.97" text-anchor="middle" textLength="128.2" lengthAdjust="spacingAndGlyphs" fill="#000">12/31 12:32:47</text>
<text x="108.2" y="2532.1" font-family='"Liberation Sans", sans-serif' font-size="16.97" text-anchor="end" textLength="37.1" lengthAdjust="spacingAndGlyphs" fill="#000">0.03</text>
<text x="108.2" y="2500.4" font-family='"Liberation Sans", sans-serif' font-size="16.97" text-anchor="end" textLength="37.1" lengthAdjust="spacingAndGlyphs" fill="#000">0.04</text>
<text x="108.2" y="2468.7" font-family='"Liberation Sans", sans-serif' font-size="16.97" text-anchor="end" textLength="37.1" lengthAdjust="spacingAndGlyphs" fill="#000">0.05</text>
<text x="108.2" y="2437.0" font-family='"Liberation Sans", sans-serif' font-size="16.97" text-anchor="end" textLength="37.1" lengthAdjust="spacingAndGlyphs" fill="#000">0.06</text>
<text x="108.2" y="2405.2" font-family='"Liberation Sans", sans-serif' font-size="16.97" text-anchor="end" textLength="37.1" lengthAdjust="spacingAndGlyphs" fill="#000">0.07</text>
<text x="108.2" y="2373.5" font-family='"Liberation Sans", sans-serif' font-size="16.97" text-anchor="end" textLength="37.1" lengthAdjust="spacingAndGlyphs" fill="#000">0.08</text>
<text x="108.2" y="2341.8" font-family='"Liberation Sans", sans-serif' font-size="16.97" text-anchor="end" textLength="37.1" lengthAdjust="spacingAndGlyphs" fill="#000">0.09</text>
<text x="108.2" y="2310.1" font-family='"Liberation Sans", sans-serif' font-size="16.97" text-anchor="end" textLength="37.1" lengthAdjust="spacingAndGlyphs" fill="#000">0.10</text>
<text x="900.0" y="2295.5" font-family='"Liberation Sans", sans-serif' font-size="23.36" text-anchor="middle" textLength="144.4" lengthAdjust="spacingAndGlyphs" fill="#000">Plasma Beta</text>
<text x="52.4" y="2424.8" font-family='"Liberation Serif", serif' font-size="16.97" text-anchor="start" font-style="italic" transform="rotate(-90 52.4 2424.8)" fill="#000">β</text>
<text x="54.9" y="2416.5" font-family='"Liberation Serif", serif' font-size="11.91" text-anchor="start" font-style="italic" transform="rotate(-90 54.9 2416.5)" fill="#000">p</text>
<text x="319.6" y="2883.3" font-family='"Liberation Sans", sans-serif' font-size="16.97" text-anchor="middle" textLength="128.2" lengthAdjust="spacingAndGlyphs" fill="#000">12/31 12:32:22</text>
<text x="572.1" y="2883.3" font-family='"Liberation Sans", sans-serif' font-size="16.97" text-anchor="middle" textLength="128.2" lengthAdjust="spacingAndGlyphs" fill="#000">12/31 12:32:27</text>
<text x="824.6" y="2883.3" font-family='"Liberation Sans", sans-serif' font-size="16.97" text-anchor="middle" textLength="128.2" lengthAdjust="spacingAndGlyphs" fill="#000">12/31 12:32:32</text>
<text x="1077.1" y="2883.3" font-family='"Liberation Sans", sans-serif' font-size="16.97" text-anchor="middle" textLength="128.2" lengthAdjust="spacingAndGlyphs" fill="#000">12/31 12:32:37</text>
<text x="1329.6" y="2883.3" font-family='"Liberation Sans", sans-serif' font-size="16.97" text-anchor="middle" textLength="128.2" lengthAdjust="spacingAndGlyphs" fill="#000">12/31 12:32:42</text>
<text x="1582.1" y="2883.3" font-family='"Liberation Sans", sans-serif' font-size="16.97" text-anchor="middle" textLength="128.2" lengthAdjust="spacingAndGlyphs" fill="#000">12/31 12:32:47</text>
<text x="108.2" y="2865.6" font-family='"Liberation Sans", sans-serif' font-size="16.97" text-anchor="end" textLength="21.2" lengthAdjust="spacingAndGlyphs" fill="#000">70</text>
<text x="108.2" y="2833.9" font-family='"Liberation Sans", sans-serif' font-size="16.97" text-anchor="end" textLength="21.2" lengthAdjust="spacingAndGlyphs" fill="#000">80</text>
<text x="108.2" y="2802.2" font-family='"Liberation Sans", sans-serif' font-size="16.97" text-anchor="end" textLength="21.2" lengthAdjust="spacingAndGlyphs" fill="#000">90</text>
<text x="108.2" y="2770.5" font-family='"Liberation Sans", sans-serif' font-size="16.97" text-anchor="end" textLength="31.8" lengthAdjust="spacingAndGlyphs" fill="#000">100</text>
<text x="108.2" y="2738.7" font-family='"Liberation Sans", sans-serif' font-size="16.97" text-anchor="end" textLength="31.8" lengthAdjust="spacingAndGlyphs" fill="#000">110</text>
<text x="108.2" y="2707.0" font-family='"Liberation Sans", sans-serif' font-size="16.97" text-anchor="end" textLength="31.8" lengthAdjust="spacingAndGlyphs" fill="#000">120</text>
<text x="108.2" y="2675.3" font-family='"Liberation Sans", sans-serif' font-size="16.97" text-anchor="end" textLength="31.8" lengthAdjust="spacingAndGlyphs" fill="#000">130</text>
<text x="108.2" y="2643.6" font-family='"Liberation Sans", sans-serif' font-size="16.97" text-anchor="end" textLength="31.8" lengthAdjust="spacingAndGlyphs" fill="#000">140</text>
<text x="900.0" y="2628.5" font-family='"Liberation Sans", sans-serif' font-size="23.36" text-anchor="middle" textLength="271.4" lengthAdjust="spacingAndGlyphs" fill="#000">Proton Number Density</text>
<text x="63.1" y="2752.3" font-family='"Liberation Sans", sans-serif' font-size="16.97" text-anchor="middle" textLength="74.0" lengthAdjust="spacingAndGlyphs" transform="rotate(-90 63.1 2752.3)" fill="#000">Np(#/cc)</text>
<text x="319.6" y="3217.3" font-family='"Liberation Sans", sans-serif' font-size="16.97" text-anchor="middle" textLength="128.2" lengthAdjust="spacingAndGlyphs" fill="#000">12/31 12:32:22</text>
<text x="572.1" y="3217.3" font-family='"Liberation Sans", sans-serif' font-size="16.97" text-anchor="middle" textLength="128.2" lengthAdjust="spacingAndGlyphs" fill="#000">12/31 12:32:27</text>
<text x="824.6" y="3217.3" font-family='"Liberation Sans", sans-serif' font-size="16.97" text-anchor="middle" textLength="128.2" lengthAdjust="spacingAndGlyphs" fill="#000">12/31 12:32:32</text>
<text x="1077.1" y="3217.3" font-family='"Liberation Sans", sans-serif' font-size="16.97" text-anchor="middle" textLength="128.2" lengthAdjust="spacingAndGlyphs" fill="#000">12/31 12:32:37</text>
<text x="1329.6" y="3217.3" font-family='"Liberation Sans", sans-serif' font-size="16.97" text-anchor="middle" textLength="128.2" lengthAdjust="spacingAndGlyphs" fill="#000">12/31 12:32:42</text>
<text x="1582.1" y="3217.3" font-family='"Liberation Sans", sans-serif' font-size="16.97" text-anchor="middle" textLength="128.2" lengthAdjust="spacingAndGlyphs" fill="#000">12/31 12:32:47</text>
<text x="108.2" y="3199.1" font-family='"Liberation Sans", sans-serif' font-size="16.97" text-anchor="end" textLength="37.1" lengthAdjust="spacingAndGlyphs" fill="#000">0.12</text>
<text x="108.2" y="3162.1" font-family='"Liberation Sans", sans-serif' font-size="16.97" text-anchor="end" textLength="37.1" lengthAdjust="spacingAndGlyphs" fill="#000">0.14</text>
<text x="108.2" y="3125.1" font-family='"Liberation Sans", sans-serif' font-size="16.97" text-anchor="end" textLength="37.1" lengthAdjust="spacingAndGlyphs" fill="#000">0.16</text>
<text x="108.2" y="3088.1" font-family='"Liberation Sans", sans-serif' font-size="16.97" text-anchor="end" textLength="37.1" lengthAdjust="spacingAndGlyphs" fill="#000">0.18</text>
<text x="108.2" y="3051.1" font-family='"Liberation Sans", sans-serif' font-size="16.97" text-anchor="end" textLength="37.1" lengthAdjust="spacingAndGlyphs" fill="#000">0.20</text>
<text x="108.2" y="3014.1" font-family='"Liberation Sans", sans-serif' font-size="16.97" text-anchor="end" textLength="37.1" lengthAdjust="spacingAndGlyphs" fill="#000">0.22</text>
<text x="108.2" y="2977.1" font-family='"Liberation Sans", sans-serif' font-size="16.97" text-anchor="end" textLength="37.1" lengthAdjust="spacingAndGlyphs" fill="#000">0.24</text>
<text x="728.3" y="2960.7" font-family='"Liberation Sans", sans-serif' font-size="23.36" text-anchor="start" textLength="283.8" lengthAdjust="spacingAndGlyphs" fill="#000">Proton Temperature and</text>
<text x="1016.0" y="2960.7" font-family='"Liberation Serif", serif' font-size="24.94" text-anchor="start" font-style="italic" fill="#000">T</text>
<text x="1030.2" y="2964.6" font-family='"Liberation Serif", serif' font-size="16.80" text-anchor="start" font-style="italic" fill="#000">e</text>
<text x="1050.6" y="2960.7" font-family='"Liberation Serif", serif' font-size="24.94" text-anchor="start" font-style="italic" fill="#000">T</text>
<text x="1064.2" y="2964.6" font-family='"Liberation Serif", serif' font-size="16.80" text-anchor="start" font-style="italic" fill="#000">p</text>
<text x="53.1" y="3119.1" font-family='"Liberation Sans", sans-serif' font-size="16.97" text-anchor="start" textLength="27.3" lengthAdjust="spacingAndGlyphs" transform="rotate(-90 53.1 3119.1)" fill="#000">Tp(</text>
<text x="53.1" y="3091.6" font-family='"Liberation Serif", serif' font-size="16.97" text-anchor="start" textLength="18.0" lengthAdjust="spacingAndGlyphs" transform="rotate(-90 53.1 3091.6)" fill="#000">10</text>
<text x="46.6" y="3074.6" font-family='"Liberation Serif", serif' font-size="11.91" text-anchor="start" transform="rotate(-90 46.6 3074.6)" fill="#000">6</text>
<text x="53.1" y="3067.5" font-family='"Liberation Sans", sans-serif' font-size="16.97" text-anchor="start" textLength="17.4" lengthAdjust="spacingAndGlyphs" transform="rotate(-90 53.1 3067.5)" fill="#000">K)</text>
<text x="171.7" y="2997.9" font-family='"Liberation Sans", sans-serif' font-size="15.56" text-anchor="start" textLength="19.0" lengthAdjust="spacingAndGlyphs" fill="#000">Tp</text>
</g>
</svg></body></html>
